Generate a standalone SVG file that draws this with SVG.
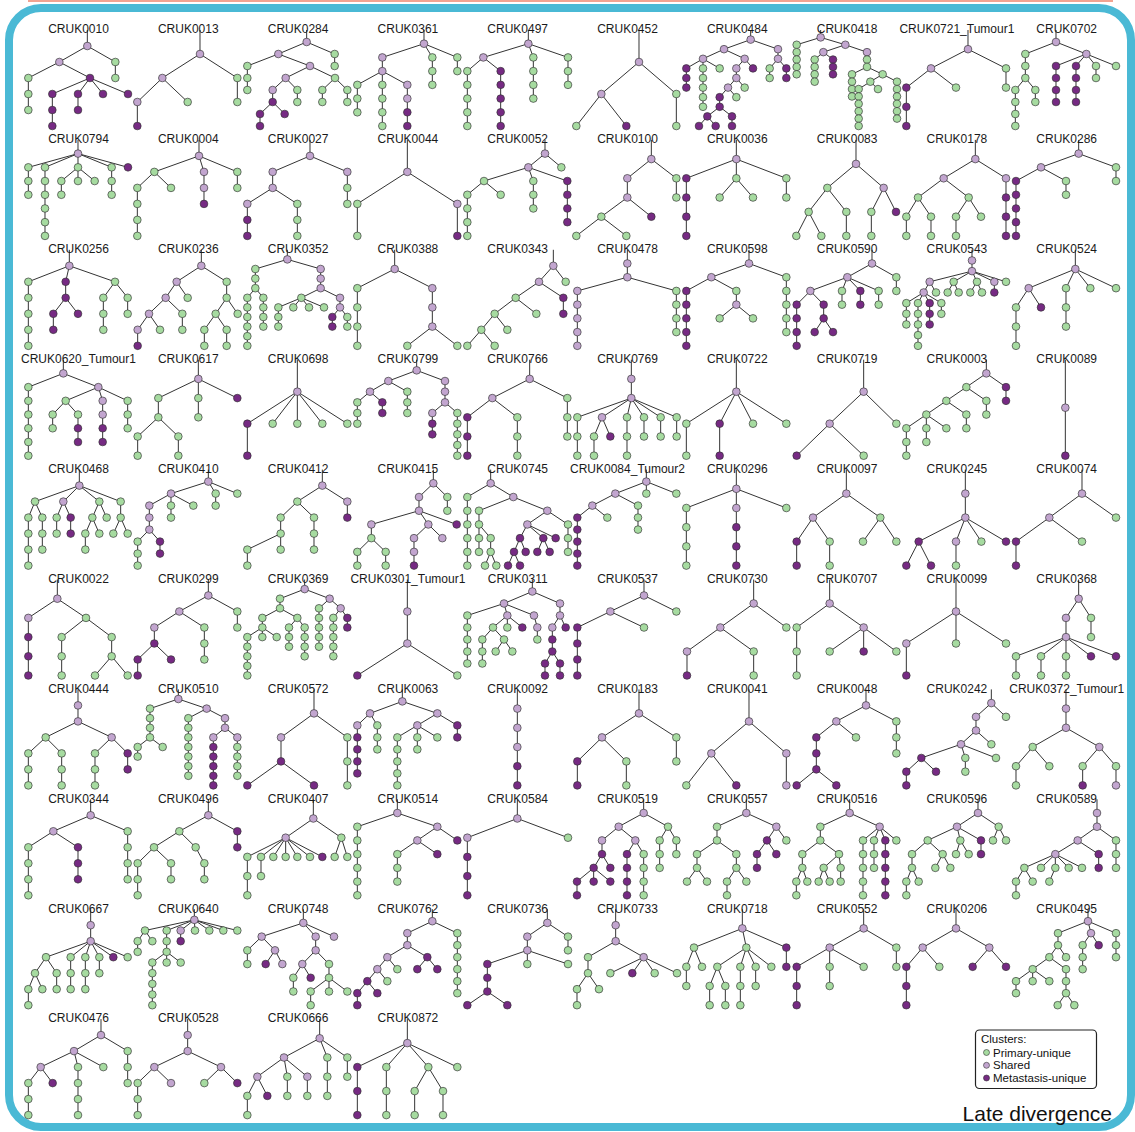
<svg xmlns="http://www.w3.org/2000/svg" width="1135" height="1132" viewBox="0 0 1135 1132">
<style>
.t{font-family:"Liberation Sans",Arial,sans-serif;font-size:12px;fill:#1a1a1a;text-anchor:middle}
.e{fill:none;stroke:#333;stroke-width:3}
.n circle{r:11.5px;stroke:#333;stroke-width:2}
.g{fill:#a6dba0}.s{fill:#c2a5cf}.m{fill:#762a83}
.lg{font-family:"Liberation Sans",Arial,sans-serif;font-size:11.5px;fill:#111}
</style>
<rect width="1135" height="1132" fill="#fff"/>
<rect x="28" y="0" width="1085" height="2" fill="#f2a391"/>
<rect x="9" y="8" width="1122" height="1119" rx="32" fill="none" stroke="#4ab9d5" stroke-width="8"/>
<g id="connectors" class="e">
<path transform="translate(0 30) scale(.33333)" d="M262 0V48M262 48L178 96M262 48L346 96V144M178 96L85 144V240M178 96L270 144M270 144L157 192V288M270 144L234 192V240M270 144L309 192M270 144L384 192"/>
<path transform="translate(0 30) scale(.33333)" d="M600 0V72M600 72L487 144M600 72L712 144V216M487 144L412 216V288M487 144L563 216"/>
<path transform="translate(284 30) scale(.33333)" d="M68 0V36M68 36L152 72V108M68 36L-17 72M-17 72L-110 108V180M-17 72L78 108M78 108L153 144M78 108L5 144M153 144L115 180V216M153 144L190 180V216M5 144L40 180V216M5 144L-34 180V216M-34 216L-72 252V288M-34 216L2 252"/>
<path transform="translate(284 30) scale(.33333)" d="M420 0V41.1M420 41.1L295 82.3V123.4M420 41.1L445 82.3V164.6M420 41.1L520 82.3V123.4M295 123.4L220 164.6V246.9M295 123.4V288M295 123.4L370 164.6V288"/>
<path transform="translate(284 30) scale(.33333)" d="M733 0V41.1M733 41.1L598 82.3M733 41.1L748 82.3V205.7M733 41.1L852 82.3V164.6M598 82.3L550 123.4V288M598 82.3L650 123.4V288"/>
<path transform="translate(568 30) scale(.33333)" d="M213 0V96M213 96L100 192M213 96L325 192V288M100 192L25 288M100 192L175 288"/>
<path transform="translate(568 30) scale(.33333)" d="M548 0V28.8M548 28.8L468 57.6M548 28.8L630 57.6V86.4M468 57.6L405 86.4M468 57.6L530 86.4M405 86.4L355 115.2V172.8M405 86.4V230.4M405 86.4L455 115.2M530 86.4L505 115.2V144M530 86.4L555 115.2M505 144L480 172.8M505 144L530 172.8M480 172.8L455 201.6V230.4M480 172.8L505 201.6M455 230.4L418 259.2M455 230.4L492 259.2V288M418 259.2L393 288M418 259.2L443 288M630 86.4L605 115.2V144M630 86.4L655 115.2V144"/>
<path transform="translate(568 30) scale(.33333)" d="M758 0V22.2M758 22.2L686 44.3V132.9M758 22.2L832 44.3M832 44.3L766 66.5M766 66.5L740 88.6V155.1M766 66.5L795 88.6V132.9M832 44.3L897 66.5V110.8M897 110.8L852 132.9V199.4M897 110.8L944 132.9M944 132.9L907 155.1M944 132.9L987 155.1V265.8M907 155.1L872 177.2V288M907 155.1L930 177.2"/>
<path transform="translate(852 30) scale(.33333)" d="M348 0V57.6M348 57.6L237 115.2M348 57.6L462 115.2V172.8M237 115.2L163 172.8V288M237 115.2L312 172.8"/>
<path transform="translate(852 30) scale(.33333)" d="M612 0V36M612 36L520 72V144M612 36L703 72M520 144L490 180V288M520 144L550 180V216M703 72L612 108V216M703 72L672 108V216M703 72L732 108V144M703 72L792 108"/>
<path transform="translate(0 139.9) scale(.33333)" d="M234 0V41.1M234 41.1L85 82.3V164.6M234 41.1L135 82.3V288M234 41.1V82.3M234 82.3L184 123.4V164.6M234 82.3V123.4M234 82.3L284 123.4M234 41.1L335 82.3V164.6M234 41.1L384 82.3"/>
<path transform="translate(0 139.9) scale(.33333)" d="M597 0V48M597 48L463 96M597 48L612 96M597 48L712 96V144M463 96L412 144V288M463 96L513 144M612 96V192"/>
<path transform="translate(0 139.9) scale(.33333)" d="M930 0V48M930 48L818 96V144M930 48L1042 96V192M818 144L742 192V288M818 144L892 192V288"/>
<path transform="translate(284 139.9) scale(.33333)" d="M370 0V96M370 96L220 192V288M370 96L520 192V288"/>
<path transform="translate(284 139.9) scale(.33333)" d="M783 0V41.1M783 41.1L733 82.3M783 41.1L832 82.3M733 82.3L600 123.4M733 82.3L748 123.4V205.7M733 82.3L850 123.4V246.9M600 123.4L550 164.6V288M600 123.4L650 164.6"/>
<path transform="translate(568 139.9) scale(.33333)" d="M250 0V57.6M250 57.6L178 115.2V172.8M250 57.6L325 115.2V172.8M178 172.8L100 230.4M178 172.8L250 230.4M100 230.4L25 288M100 230.4L175 288"/>
<path transform="translate(568 139.9) scale(.33333)" d="M505 0V57.6M505 57.6L355 115.2V288M505 57.6V115.2M505 115.2L455 172.8M505 115.2L555 172.8M505 57.6L655 115.2V172.8"/>
<path transform="translate(568 139.9) scale(.33333)" d="M864 0V72M864 72L778 144M864 72L947 144M778 144L722 216M778 144L835 216V288M722 216L685 288M722 216L760 288M947 144L910 216V288M947 144L984 216"/>
<path transform="translate(852 139.9) scale(.33333)" d="M370 0V57.6M370 57.6L275 115.2M370 57.6L462 115.2V288M275 115.2L198 172.8M275 115.2L350 172.8M198 172.8L163 230.4V288M198 172.8L237 230.4V288M350 172.8L312 230.4V288M350 172.8L387 230.4"/>
<path transform="translate(852 139.9) scale(.33333)" d="M680 0V41.1M680 41.1L567 82.3M680 41.1L792 82.3V123.4M567 82.3L492 123.4V288M567 82.3L642 123.4V164.6"/>
<path transform="translate(0 249.8) scale(.33333)" d="M208 0V48M208 48L85 96V288M208 48L197 96V144M197 144L160 192V240M197 144L234 192M208 48L345 96M345 96L310 144V240M345 96L383 144V192"/>
<path transform="translate(0 249.8) scale(.33333)" d="M604 0V48M604 48L530 96M604 48L680 96V144M530 96L497 144M530 96L563 144M497 144L447 192M497 144L547 192V240M447 192L413 240V288M447 192L480 240M680 144L647 192M680 144L713 192M647 192L613 240V288M647 192L680 240V288"/>
<path transform="translate(0 249.8) scale(.33333)" d="M862 0V28.8M862 28.8L766 57.6V115.2M766 115.2L742 144V288M766 115.2L790 144V230.4M862 28.8L962 57.6V115.2M962 115.2L904 144M962 115.2L1020 144V172.8M904 144L835 172.8V230.4M904 144L880 172.8M904 144L927 172.8M904 144L972 172.8M1020 172.8L997 201.6V230.4M1020 172.8L1042 201.6V230.4"/>
<path transform="translate(284 249.8) scale(.33333)" d="M332 0V57.6M332 57.6L220 115.2V288M332 57.6L445 115.2V230.4M445 230.4L370 288M445 230.4L520 288"/>
<path transform="translate(284 249.8) scale(.33333)" d="M808 0V48M808 48L765 96M808 48L845 96M765 96L695 144M765 96L838 144V192M695 144L632 192M695 144L757 192M632 192L592 240M632 192L670 240M592 240L550 288M592 240L632 288"/>
<path transform="translate(568 249.8) scale(.33333)" d="M178 0V82.3M178 82.3L28 123.4V288M178 82.3L325 123.4V246.9"/>
<path transform="translate(568 249.8) scale(.33333)" d="M543 0V41.1M543 41.1L430 82.3M543 41.1L655 82.3V246.9M430 82.3L355 123.4V288M430 82.3L505 123.4V164.6M505 164.6L455 205.7M505 164.6L555 205.7"/>
<path transform="translate(568 249.8) scale(.33333)" d="M912 0V41.1M912 41.1L838 82.3M912 41.1L985 82.3V123.4M838 82.3L727 123.4M838 82.3L822 123.4V164.6M838 82.3L877 123.4V164.6M838 82.3L932 123.4V164.6M727 123.4L686 164.6V288M727 123.4L767 164.6V205.7M767 205.7L740 246.9M767 205.7L795 246.9"/>
<path transform="translate(852 249.8) scale(.33333)" d="M360 0V64M360 64L233 96M360 64L305 96M360 64L375 96M360 64L427 96V128M360 64L462 96M233 96L252 128M233 96L215 128M215 128L163 160V224M215 128L198 160V288M215 128L233 160V224M215 128L268 160V192M305 96L287 128M305 96L320 128M375 96L355 128M375 96L390 128"/>
<path transform="translate(852 249.8) scale(.33333)" d="M670 0V57.6M670 57.6L530 115.2M670 57.6L642 115.2V230.4M670 57.6L715 115.2M670 57.6L792 115.2M530 115.2L492 172.8V288M530 115.2L567 172.8"/>
<path transform="translate(0 359.7) scale(.33333)" d="M190 0V41.1M190 41.1L85 82.3V288M190 41.1L295 82.3M295 82.3L197 123.4M295 82.3L308 123.4V246.9M295 82.3L383 123.4V205.7M197 123.4L158 164.6V205.7M197 123.4L234 164.6V246.9"/>
<path transform="translate(0 359.7) scale(.33333)" d="M595 0V57.6M595 57.6L475 115.2V172.8M595 57.6V172.8M595 57.6L712 115.2M475 172.8L413 230.4V288M475 172.8L535 230.4V288"/>
<path transform="translate(284 359.7) scale(.33333)" d="M40 0V192M40 96L-110 192V288M40 96L-34 192M40 96L115 192M40 96L190 192"/>
<path transform="translate(284 359.7) scale(.33333)" d="M398 0V32M398 32L313 64M398 32L483 64V128M313 64L258 96M313 64L370 96V160M258 96L220 128V192M258 96L295 128V160M483 128L445 160V224M483 128L520 160V288"/>
<path transform="translate(284 359.7) scale(.33333)" d="M737 0V57.6M737 57.6L625 115.2M737 57.6L850 115.2V230.4M625 115.2L550 172.8V288M625 115.2L700 172.8V288"/>
<path transform="translate(568 359.7) scale(.33333)" d="M190 0V115.2M190 115.2L28 172.8V288M190 115.2L102 172.8M102 172.8L78 230.4V288M102 172.8L127 230.4M190 115.2L177 172.8V288M190 115.2L228 172.8V230.4M190 115.2L278 172.8V230.4M190 115.2L326 172.8V230.4"/>
<path transform="translate(568 359.7) scale(.33333)" d="M505 0V96M505 96L355 192V288M505 96L455 192V288M505 96L555 192M505 96L655 192"/>
<path transform="translate(568 359.7) scale(.33333)" d="M887 0V96M887 96L785 192M887 96L985 192M785 192L686 288M785 192L887 288"/>
<path transform="translate(852 359.7) scale(.33333)" d="M403 0V41.1M403 41.1L343 82.3M403 41.1L462 82.3V123.4M343 82.3L283 123.4M343 82.3L403 123.4V164.6M283 123.4L223 164.6M283 123.4L343 164.6V205.7M223 164.6L163 205.7V288M223 164.6V246.9M223 164.6L283 205.7"/>
<path transform="translate(852 359.7) scale(.33333)" d="M640 0V288"/>
<path transform="translate(0 469.6) scale(.33333)" d="M238 0V48M238 48L105 96M105 96L85 144V288M105 96L127 144V240M238 48L190 96M190 96L170 144V192M190 96L212 144V192M238 48L298 96M298 96L277 144M277 144L256 192V240M277 144L298 192M298 96L320 144M238 48L362 96V144M362 144L340 192M362 144L383 192"/>
<path transform="translate(0 469.6) scale(.33333)" d="M625 0V36M625 36L513 72M625 36L647 72V108M625 36L712 72M513 72L448 108V180M513 72V144M513 72L580 108M448 180L413 216V288M448 180L480 216V252"/>
<path transform="translate(284 469.6) scale(.33333)" d="M115 0V48M115 48L40 96M115 48L190 96V144M40 96L-10 144V240M40 96L90 144V240M-10 192L-110 240V288"/>
<path transform="translate(284 469.6) scale(.33333)" d="M448 0V41.1M448 41.1L405 82.3V123.4M448 41.1L490 82.3V123.4M405 123.4L262 164.6V205.7M405 123.4L433 164.6M405 123.4L518 164.6M262 205.7L220 246.9V288M262 205.7L305 246.9V288M433 164.6L390 205.7V288M433 164.6L475 205.7"/>
<path transform="translate(284 469.6) scale(.33333)" d="M620 0V41.1M620 41.1L550 82.3V288M620 41.1L688 82.3M688 82.3L585 123.4V246.9M585 164.6L620 205.7V246.9M620 246.9L603 288M620 246.9L637 288M688 82.3L790 123.4M790 123.4L730 164.6M790 123.4L852 164.6V246.9M730 164.6L708 205.7M730 164.6L778 205.7M730 164.6L815 205.7M708 205.7L690 246.9M708 205.7L725 246.9M690 246.9L672 288M690 246.9L708 288M778 205.7L760 246.9M778 205.7L797 246.9"/>
<path transform="translate(568 469.6) scale(.33333)" d="M235 0V72M235 36L142 72M235 36L325 72M142 72L73 108M142 72L210 108V180M73 108L28 144V288M73 108L118 144"/>
<path transform="translate(568 469.6) scale(.33333)" d="M505 0V288M505 57.6L355 115.2V288M505 57.6L655 115.2"/>
<path transform="translate(568 469.6) scale(.33333)" d="M835 0V72M835 72L735 144M835 72L937 144M735 144L686 216V288M735 144L785 216V288M937 144L885 216M937 144L985 216"/>
<path transform="translate(852 469.6) scale(.33333)" d="M340 0V144M340 144L200 216M340 144L312 216V288M340 144L388 216M340 144L462 216M200 216L163 288M200 216L237 288"/>
<path transform="translate(852 469.6) scale(.33333)" d="M690 0V72M690 72L592 144M690 72L792 144M592 144L492 216V288M592 144L690 216"/>
<path transform="translate(0 579.5) scale(.33333)" d="M172 0V57.6M172 57.6L85 115.2V288M172 57.6L258 115.2M258 115.2L185 172.8V288M258 115.2L335 172.8V230.4M335 230.4L285 288M335 230.4L383 288"/>
<path transform="translate(0 579.5) scale(.33333)" d="M625 0V48M625 48L538 96M625 48L712 96V144M538 96L463 144V192M538 96L613 144V240M463 192L413 240V288M463 192L513 240"/>
<path transform="translate(284 579.5) scale(.33333)" d="M62 0V28.8M62 28.8L-12 57.6V86.4M-12 86.4L-65 115.2V144M-65 144L-110 172.8V288M-65 144V172.8M-65 144L-22 172.8M-12 86.4L40 115.2M40 115.2L15 144V201.6M40 115.2L62 144V230.4M62 28.8L137 57.6M137 57.6L105 86.4V201.6M137 57.6L170 86.4M170 86.4L148 115.2V230.4M170 86.4L190 115.2V144"/>
<path transform="translate(284 579.5) scale(.33333)" d="M370 0V192M370 192L220 288M370 192L520 288"/>
<path transform="translate(284 579.5) scale(.33333)" d="M745 0V36M745 36L660 72M745 36L828 72V108M660 72L550 108V252M660 72L670 108M670 108L627 144M670 108V144M670 108L715 144M627 144L595 180V252M627 144L660 180M660 180L635 216M660 180L685 216M660 72L750 108M750 108L760 144V180M828 108L805 144V216M828 108L845 144M805 216L783 252V288M805 216L828 252V288"/>
<path transform="translate(568 579.5) scale(.33333)" d="M228 0V48M228 48L127 96M228 48L325 96M127 96L28 144V288M127 96L228 144"/>
<path transform="translate(568 579.5) scale(.33333)" d="M557 0V72M557 72L457 144M557 72L655 144M457 144L357 216V288M457 144L557 216V288"/>
<path transform="translate(568 579.5) scale(.33333)" d="M785 0V72M785 72L686 144V288M785 72L887 144V216M887 144L785 216M887 144L985 216"/>
<path transform="translate(852 579.5) scale(.33333)" d="M312 0V192M312 96L163 192V288M312 96L462 192"/>
<path transform="translate(852 579.5) scale(.33333)" d="M680 0V57.6M680 57.6L642 115.2V288M680 57.6L717 115.2V172.8M642 172.8L492 230.4V288M642 172.8L567 230.4V288M642 172.8L717 230.4M642 172.8L792 230.4"/>
<path transform="translate(0 689.4) scale(.33333)" d="M234 0V96M234 96L137 144M137 144L85 192V288M137 144L185 192V288M234 96L335 144M335 144L285 192V288M335 144L383 192V240"/>
<path transform="translate(0 689.4) scale(.33333)" d="M535 0V28.8M535 28.8L450 57.6V144M450 144L413 172.8V201.6M450 144L488 172.8M535 28.8L620 57.6M620 57.6L565 86.4V259.2M620 57.6L675 86.4V115.2M675 115.2L640 144V288M675 115.2L712 144V259.2"/>
<path transform="translate(284 689.4) scale(.33333)" d="M90 0V72M90 72L-9 144V216M-9 216L-110 288M-9 216L90 288M90 72L190 144V288"/>
<path transform="translate(284 689.4) scale(.33333)" d="M355 0V36M355 36L258 72M258 72L220 108V252M258 72L280 108V180M355 36L460 72M460 72L400 108M400 108L340 144V288M400 108V180M400 108L460 144M460 72L520 108V144"/>
<path transform="translate(284 689.4) scale(.33333)" d="M700 0V288"/>
<path transform="translate(568 689.4) scale(.33333)" d="M213 0V72M213 72L102 144M213 72L325 144V216M102 144L28 216V288M102 144L175 216V288"/>
<path transform="translate(568 689.4) scale(.33333)" d="M543 0V96M543 96L430 192M543 96L655 192V288M430 192L355 288M430 192L505 288"/>
<path transform="translate(568 689.4) scale(.33333)" d="M894 0V48M894 48L805 96M894 48L985 96V192M805 96L745 144V240M805 96L864 144M745 240L686 288M745 240L805 288"/>
<path transform="translate(852 689.4) scale(.33333)" d="M418 0V41.1M418 41.1L372 82.3V123.4M418 41.1L462 82.3M372 123.4L327 164.6M372 123.4L418 164.6M327 164.6L208 205.7M327 164.6L340 205.7V246.9M327 164.6L432 205.7M208 205.7L163 246.9V288M208 205.7L252 246.9"/>
<path transform="translate(852 689.4) scale(.33333)" d="M642 0V115.2M642 115.2L542 172.8M642 115.2L742 172.8M542 172.8L492 230.4V288M542 172.8L592 230.4M742 172.8L692 230.4V288M742 172.8L792 230.4V288"/>
<path transform="translate(0 799.3) scale(.33333)" d="M272 0V48M272 48L160 96M272 48L383 96V240M160 96L85 144V288M160 96L234 144V240"/>
<path transform="translate(0 799.3) scale(.33333)" d="M625 0V48M625 48L538 96M625 48L712 96V144M538 96L462 144M538 96L587 144M462 144L413 192V288M462 144L513 192V240M587 144L613 192V240"/>
<path transform="translate(284 799.3) scale(.33333)" d="M88 0V57.6M88 57.6L5 115.2M88 57.6L172 115.2M5 115.2L-110 172.8V288M5 115.2L-69 172.8V230.4M5 115.2L-32 172.8M5 115.2V172.8M5 115.2L40 172.8M5 115.2L78 172.8M5 115.2L115 172.8M172 115.2L152 172.8M172 115.2L190 172.8"/>
<path transform="translate(284 799.3) scale(.33333)" d="M340 0V41.1M340 41.1L220 82.3V288M340 41.1L460 82.3M460 82.3L400 123.4M460 82.3L520 123.4M400 123.4L340 164.6V246.9M400 123.4L460 164.6"/>
<path transform="translate(284 799.3) scale(.33333)" d="M700 0V57.6M700 57.6L550 115.2V288M700 57.6L852 115.2"/>
<path transform="translate(568 799.3) scale(.33333)" d="M227 0V41.1M227 41.1L152 82.3M227 41.1L300 82.3M152 82.3L102 123.4V164.6M102 164.6L77 205.7M102 164.6L127 205.7M77 205.7L27 246.9V288M77 205.7V246.9M77 205.7L127 246.9M152 82.3L202 123.4M202 123.4L177 164.6V288M202 123.4L227 164.6V288M300 82.3L275 123.4V205.7M300 82.3L325 123.4V164.6"/>
<path transform="translate(568 799.3) scale(.33333)" d="M535 0V41.1M535 41.1L447 82.3V123.4M447 123.4L387 164.6V205.7M387 205.7L357 246.9M387 205.7L417 246.9M447 123.4L505 164.6V205.7M505 205.7L477 246.9V288M505 205.7L535 246.9M535 41.1L625 82.3M625 82.3L597 123.4M625 82.3L655 123.4M597 123.4L567 164.6V205.7M597 123.4L625 164.6"/>
<path transform="translate(568 799.3) scale(.33333)" d="M845 0V41.1M845 41.1L757 82.3V123.4M757 123.4L703 164.6V205.7M703 205.7L685 246.9V288M703 205.7L718 246.9M757 123.4L813 164.6M813 164.6L767 205.7M767 205.7L752 246.9M767 205.7L785 246.9M813 164.6L818 205.7V246.9M845 41.1L935 82.3M935 82.3L885 123.4V288M935 82.3L918 123.4V205.7M935 82.3L952 123.4V288M935 82.3L985 123.4"/>
<path transform="translate(852 799.3) scale(.33333)" d="M378 0V41.1M378 41.1L315 82.3M378 41.1L440 82.3M440 82.3L423 123.4M440 82.3L462 123.4M315 82.3L227 123.4M227 123.4L180 164.6V205.7M180 205.7L163 246.9V288M180 205.7L200 246.9M227 123.4L272 164.6M272 164.6L250 205.7M272 164.6L295 205.7M315 82.3L325 123.4M325 123.4L312 164.6M325 123.4L350 164.6M315 82.3L387 123.4V164.6"/>
<path transform="translate(852 799.3) scale(.33333)" d="M735 0V82.3M735 82.3L677 123.4M735 82.3L792 123.4V205.7M677 123.4L610 164.6M677 123.4L740 164.6V205.7M610 164.6L517 205.7M610 164.6L567 205.7M610 164.6V205.7M610 164.6L650 205.7M610 164.6L690 205.7M517 205.7L492 246.9V288M517 205.7L542 246.9M610 205.7L592 246.9"/>
<path transform="translate(0 909.2) scale(.33333)" d="M272 0V96M272 96L138 144M138 144L105 192M105 192L85 240V288M105 192L127 240M138 144L170 192V240M272 96L212 144V240M272 96L256 144V240M272 96L298 144V192M272 96L340 144M272 96L383 144"/>
<path transform="translate(0 909.2) scale(.33333)" d="M583 0V32M583 32L435 64M435 64L413 96V128M435 64L457 96M583 32L500 64V128M500 128L457 160V288M500 128V160M500 128L542 160M583 32L542 64V96M583 32L585 64M583 32L628 64M583 32L670 64M583 32L712 64"/>
<path transform="translate(284 909.2) scale(.33333)" d="M58 0V41.1M58 41.1L-67 82.3M-67 82.3L-110 123.4V164.6M-67 82.3L-27 123.4M-27 123.4L-55 164.6M-27 123.4L-5 164.6M58 41.1L95 82.3V123.4M95 123.4L55 164.6M55 164.6L28 205.7V246.9M55 164.6L80 205.7M95 123.4L135 164.6V205.7M135 205.7L80 246.9V288M135 205.7V246.9M135 205.7L190 246.9M58 41.1L150 82.3"/>
<path transform="translate(284 909.2) scale(.33333)" d="M445 0V36M445 36L370 72V108M445 36L520 72V252M370 108L310 144M370 108L430 144M310 144L280 180M310 144L340 180M280 180L250 216M280 180L310 216M250 216L220 252V288M250 216L280 252M430 144L400 180M430 144L460 180"/>
<path transform="translate(284 909.2) scale(.33333)" d="M790 0V41.1M790 41.1L730 82.3V164.6M790 41.1L852 82.3V123.4M730 123.4L610 164.6V246.9M730 123.4L852 164.6M610 246.9L550 288M610 246.9L670 288"/>
<path transform="translate(568 909.2) scale(.33333)" d="M143 0V96M143 96L60 144V192M60 192L27 240V288M60 192L93 240M143 96L227 144M227 144L127 192M227 144L193 192M227 144L260 192M227 144L327 192"/>
<path transform="translate(568 909.2) scale(.33333)" d="M523 0V57.6M523 57.6L378 115.2M378 115.2L355 172.8V230.4M378 115.2L402 172.8M523 57.6L535 115.2M535 115.2L448 172.8M448 172.8L425 230.4V288M448 172.8L472 230.4V288M535 115.2L517 172.8V288M535 115.2L563 172.8V230.4M535 115.2L610 172.8M523 57.6L655 115.2V172.8"/>
<path transform="translate(568 909.2) scale(.33333)" d="M887 0V57.6M887 57.6L785 115.2M887 57.6L985 115.2V172.8M785 115.2L686 172.8V288M785 115.2V230.4M785 115.2L887 172.8"/>
<path transform="translate(852 909.2) scale(.33333)" d="M312 0V57.6M312 57.6L212 115.2M312 57.6L412 115.2M212 115.2L163 172.8V288M212 115.2L262 172.8M412 115.2L362 172.8M412 115.2L462 172.8"/>
<path transform="translate(852 909.2) scale(.33333)" d="M708 0V36M708 36L618 72V108M618 108L592 144M618 108L642 144M592 144L542 180M592 144L642 180V252M542 180L492 216V252M542 180V216M542 180L592 216M642 252L617 288M642 252L667 288M708 36L717 72M717 72L692 108V180M717 72L740 108M708 36L792 72V144"/>
<path transform="translate(0 1019.1) scale(.33333)" d="M303 0V48M303 48L222 96M303 48L383 96V192M222 96L122 144M122 144L85 192V288M122 144L158 192M222 96L234 144V288M222 96L310 144"/>
<path transform="translate(0 1019.1) scale(.33333)" d="M563 0V96M563 96L463 144M463 144L413 192V288M463 144L513 192M563 96L663 144M663 144L613 192M663 144L712 192"/>
<path transform="translate(284 1019.1) scale(.33333)" d="M107 0V57.6M107 57.6L0 115.2M0 115.2L-80 172.8M-80 172.8L-110 230.4V288M-80 172.8L-50 230.4M0 115.2L10 172.8V230.4M0 115.2L70 172.8V230.4M107 57.6L130 115.2V230.4M107 57.6L190 115.2V172.8"/>
<path transform="translate(284 1019.1) scale(.33333)" d="M370 0V72M370 72L220 144V288M370 72L307 144V288M370 72L433 144M433 144L392 216V288M433 144L477 216V288M370 72L520 144"/>
</g>
<g id="nodes">
<g id="CRUK0010"><text class="t" x="78.5" y="33.3">CRUK0010</text><g class="n" transform="translate(0 30) scale(.33333)"><circle class="s" cx="262" cy="48"/><circle class="s" cx="178" cy="96"/><circle class="g" cx="346" cy="96"/><circle class="g" cx="346" cy="144"/><circle class="g" cx="85" cy="144"/><circle class="m" cx="270" cy="144"/><circle class="g" cx="85" cy="192"/><circle class="g" cx="85" cy="240"/><circle class="m" cx="157" cy="192"/><circle class="m" cx="157" cy="240"/><circle class="m" cx="157" cy="288"/><circle class="m" cx="234" cy="192"/><circle class="m" cx="234" cy="240"/><circle class="m" cx="309" cy="192"/><circle class="m" cx="384" cy="192"/></g></g>
<g id="CRUK0013"><text class="t" x="188.3" y="33.3">CRUK0013</text><g class="n" transform="translate(0 30) scale(.33333)"><circle class="s" cx="600" cy="72"/><circle class="s" cx="487" cy="144"/><circle class="g" cx="712" cy="144"/><circle class="s" cx="412" cy="216"/><circle class="g" cx="563" cy="216"/><circle class="m" cx="412" cy="288"/><circle class="g" cx="712" cy="216"/></g></g>
<g id="CRUK0284"><text class="t" x="298.1" y="33.3">CRUK0284</text><g class="n" transform="translate(284 30) scale(.33333)"><circle class="s" cx="68" cy="36"/><circle class="g" cx="152" cy="72"/><circle class="g" cx="152" cy="108"/><circle class="s" cx="-17" cy="72"/><circle class="g" cx="-110" cy="108"/><circle class="g" cx="-110" cy="144"/><circle class="g" cx="-110" cy="180"/><circle class="s" cx="78" cy="108"/><circle class="s" cx="5" cy="144"/><circle class="g" cx="153" cy="144"/><circle class="g" cx="40" cy="180"/><circle class="g" cx="40" cy="216"/><circle class="g" cx="115" cy="180"/><circle class="g" cx="115" cy="216"/><circle class="g" cx="190" cy="180"/><circle class="g" cx="190" cy="216"/><circle class="s" cx="-34" cy="180"/><circle class="m" cx="-34" cy="216"/><circle class="m" cx="-72" cy="252"/><circle class="m" cx="-72" cy="288"/><circle class="m" cx="2" cy="252"/></g></g>
<g id="CRUK0361"><text class="t" x="407.9" y="33.3">CRUK0361</text><g class="n" transform="translate(284 30) scale(.33333)"><circle class="s" cx="420" cy="41.1"/><circle class="s" cx="295" cy="82.3"/><circle class="g" cx="445" cy="82.3"/><circle class="g" cx="520" cy="82.3"/><circle class="s" cx="295" cy="123.4"/><circle class="g" cx="445" cy="123.4"/><circle class="g" cx="520" cy="123.4"/><circle class="g" cx="220" cy="164.6"/><circle class="g" cx="295" cy="164.6"/><circle class="s" cx="370" cy="164.6"/><circle class="g" cx="445" cy="164.6"/><circle class="g" cx="220" cy="205.7"/><circle class="g" cx="295" cy="205.7"/><circle class="s" cx="370" cy="205.7"/><circle class="g" cx="220" cy="246.9"/><circle class="g" cx="295" cy="246.9"/><circle class="m" cx="370" cy="246.9"/><circle class="g" cx="295" cy="288"/><circle class="m" cx="370" cy="288"/></g></g>
<g id="CRUK0497"><text class="t" x="517.7" y="33.3">CRUK0497</text><g class="n" transform="translate(284 30) scale(.33333)"><circle class="s" cx="733" cy="41.1"/><circle class="s" cx="598" cy="82.3"/><circle class="g" cx="748" cy="82.3"/><circle class="g" cx="852" cy="82.3"/><circle class="g" cx="550" cy="123.4"/><circle class="g" cx="550" cy="164.6"/><circle class="g" cx="550" cy="205.7"/><circle class="g" cx="550" cy="246.9"/><circle class="g" cx="550" cy="288"/><circle class="m" cx="650" cy="123.4"/><circle class="m" cx="650" cy="164.6"/><circle class="m" cx="650" cy="205.7"/><circle class="m" cx="650" cy="246.9"/><circle class="m" cx="650" cy="288"/><circle class="g" cx="748" cy="123.4"/><circle class="g" cx="748" cy="164.6"/><circle class="g" cx="748" cy="205.7"/><circle class="g" cx="852" cy="123.4"/><circle class="g" cx="852" cy="164.6"/></g></g>
<g id="CRUK0452"><text class="t" x="627.5" y="33.3">CRUK0452</text><g class="n" transform="translate(568 30) scale(.33333)"><circle class="s" cx="213" cy="96"/><circle class="s" cx="100" cy="192"/><circle class="g" cx="325" cy="192"/><circle class="g" cx="25" cy="288"/><circle class="m" cx="175" cy="288"/><circle class="g" cx="325" cy="288"/></g></g>
<g id="CRUK0484"><text class="t" x="737.3" y="33.3">CRUK0484</text><g class="n" transform="translate(568 30) scale(.33333)"><circle class="s" cx="548" cy="28.8"/><circle class="s" cx="468" cy="57.6"/><circle class="s" cx="630" cy="57.6"/><circle class="s" cx="405" cy="86.4"/><circle class="s" cx="530" cy="86.4"/><circle class="s" cx="630" cy="86.4"/><circle class="m" cx="355" cy="115.2"/><circle class="g" cx="405" cy="115.2"/><circle class="g" cx="455" cy="115.2"/><circle class="s" cx="505" cy="115.2"/><circle class="m" cx="555" cy="115.2"/><circle class="g" cx="605" cy="115.2"/><circle class="m" cx="655" cy="115.2"/><circle class="m" cx="355" cy="144"/><circle class="g" cx="405" cy="144"/><circle class="s" cx="505" cy="144"/><circle class="g" cx="605" cy="144"/><circle class="m" cx="655" cy="144"/><circle class="m" cx="355" cy="172.8"/><circle class="g" cx="405" cy="172.8"/><circle class="s" cx="480" cy="172.8"/><circle class="g" cx="530" cy="172.8"/><circle class="g" cx="405" cy="201.6"/><circle class="m" cx="455" cy="201.6"/><circle class="g" cx="505" cy="201.6"/><circle class="g" cx="405" cy="230.4"/><circle class="m" cx="455" cy="230.4"/><circle class="m" cx="418" cy="259.2"/><circle class="m" cx="492" cy="259.2"/><circle class="m" cx="393" cy="288"/><circle class="m" cx="443" cy="288"/><circle class="m" cx="492" cy="288"/></g></g>
<g id="CRUK0418"><text class="t" x="847.1" y="33.3">CRUK0418</text><g class="n" transform="translate(568 30) scale(.33333)"><circle class="s" cx="758" cy="22.2"/><circle class="g" cx="686" cy="44.3"/><circle class="g" cx="686" cy="66.5"/><circle class="g" cx="686" cy="88.6"/><circle class="g" cx="686" cy="110.8"/><circle class="g" cx="686" cy="132.9"/><circle class="s" cx="832" cy="44.3"/><circle class="s" cx="766" cy="66.5"/><circle class="g" cx="740" cy="88.6"/><circle class="g" cx="740" cy="110.8"/><circle class="g" cx="740" cy="132.9"/><circle class="g" cx="740" cy="155.1"/><circle class="m" cx="795" cy="88.6"/><circle class="m" cx="795" cy="110.8"/><circle class="m" cx="795" cy="132.9"/><circle class="s" cx="897" cy="66.5"/><circle class="g" cx="897" cy="88.6"/><circle class="g" cx="897" cy="110.8"/><circle class="g" cx="852" cy="132.9"/><circle class="g" cx="852" cy="155.1"/><circle class="g" cx="852" cy="177.2"/><circle class="g" cx="852" cy="199.4"/><circle class="g" cx="944" cy="132.9"/><circle class="g" cx="907" cy="155.1"/><circle class="g" cx="987" cy="155.1"/><circle class="g" cx="987" cy="177.2"/><circle class="g" cx="987" cy="199.4"/><circle class="g" cx="987" cy="221.5"/><circle class="g" cx="987" cy="243.7"/><circle class="g" cx="987" cy="265.8"/><circle class="g" cx="872" cy="177.2"/><circle class="g" cx="872" cy="199.4"/><circle class="g" cx="872" cy="221.5"/><circle class="g" cx="872" cy="243.7"/><circle class="g" cx="872" cy="265.8"/><circle class="g" cx="872" cy="288"/><circle class="g" cx="930" cy="177.2"/></g></g>
<g id="CRUK0721_Tumour1"><text class="t" x="956.9" y="33.3">CRUK0721_Tumour1</text><g class="n" transform="translate(852 30) scale(.33333)"><circle class="s" cx="348" cy="57.6"/><circle class="s" cx="237" cy="115.2"/><circle class="g" cx="462" cy="115.2"/><circle class="m" cx="163" cy="172.8"/><circle class="g" cx="312" cy="172.8"/><circle class="g" cx="462" cy="172.8"/><circle class="m" cx="163" cy="230.4"/><circle class="m" cx="163" cy="288"/></g></g>
<g id="CRUK0702"><text class="t" x="1066.7" y="33.3">CRUK0702</text><g class="n" transform="translate(852 30) scale(.33333)"><circle class="s" cx="612" cy="36"/><circle class="g" cx="520" cy="72"/><circle class="s" cx="703" cy="72"/><circle class="g" cx="520" cy="108"/><circle class="m" cx="612" cy="108"/><circle class="m" cx="672" cy="108"/><circle class="g" cx="732" cy="108"/><circle class="g" cx="792" cy="108"/><circle class="g" cx="520" cy="144"/><circle class="m" cx="612" cy="144"/><circle class="m" cx="672" cy="144"/><circle class="g" cx="732" cy="144"/><circle class="g" cx="490" cy="180"/><circle class="g" cx="550" cy="180"/><circle class="m" cx="612" cy="180"/><circle class="m" cx="672" cy="180"/><circle class="g" cx="490" cy="216"/><circle class="g" cx="550" cy="216"/><circle class="m" cx="612" cy="216"/><circle class="m" cx="672" cy="216"/><circle class="g" cx="490" cy="252"/><circle class="g" cx="490" cy="288"/></g></g>
<g id="CRUK0794"><text class="t" x="78.5" y="143.2">CRUK0794</text><g class="n" transform="translate(0 139.9) scale(.33333)"><circle class="s" cx="234" cy="41.1"/><circle class="g" cx="85" cy="82.3"/><circle class="g" cx="135" cy="82.3"/><circle class="g" cx="234" cy="82.3"/><circle class="g" cx="335" cy="82.3"/><circle class="m" cx="384" cy="82.3"/><circle class="g" cx="85" cy="123.4"/><circle class="g" cx="85" cy="164.6"/><circle class="g" cx="135" cy="123.4"/><circle class="g" cx="135" cy="164.6"/><circle class="g" cx="135" cy="205.7"/><circle class="g" cx="135" cy="246.9"/><circle class="g" cx="135" cy="288"/><circle class="g" cx="184" cy="123.4"/><circle class="g" cx="234" cy="123.4"/><circle class="g" cx="284" cy="123.4"/><circle class="g" cx="184" cy="164.6"/><circle class="g" cx="335" cy="123.4"/><circle class="g" cx="335" cy="164.6"/></g></g>
<g id="CRUK0004"><text class="t" x="188.3" y="143.2">CRUK0004</text><g class="n" transform="translate(0 139.9) scale(.33333)"><circle class="s" cx="597" cy="48"/><circle class="g" cx="463" cy="96"/><circle class="s" cx="612" cy="96"/><circle class="g" cx="712" cy="96"/><circle class="g" cx="412" cy="144"/><circle class="g" cx="513" cy="144"/><circle class="s" cx="612" cy="144"/><circle class="g" cx="712" cy="144"/><circle class="g" cx="412" cy="192"/><circle class="m" cx="612" cy="192"/><circle class="g" cx="412" cy="240"/><circle class="g" cx="412" cy="288"/></g></g>
<g id="CRUK0027"><text class="t" x="298.1" y="143.2">CRUK0027</text><g class="n" transform="translate(0 139.9) scale(.33333)"><circle class="s" cx="930" cy="48"/><circle class="s" cx="818" cy="96"/><circle class="s" cx="1042" cy="96"/><circle class="s" cx="818" cy="144"/><circle class="s" cx="742" cy="192"/><circle class="g" cx="892" cy="192"/><circle class="m" cx="742" cy="240"/><circle class="m" cx="742" cy="288"/><circle class="g" cx="892" cy="240"/><circle class="g" cx="892" cy="288"/><circle class="g" cx="1042" cy="144"/><circle class="g" cx="1042" cy="192"/></g></g>
<g id="CRUK0044"><text class="t" x="407.9" y="143.2">CRUK0044</text><g class="n" transform="translate(284 139.9) scale(.33333)"><circle class="s" cx="370" cy="96"/><circle class="g" cx="220" cy="192"/><circle class="s" cx="520" cy="192"/><circle class="g" cx="220" cy="288"/><circle class="m" cx="520" cy="288"/></g></g>
<g id="CRUK0052"><text class="t" x="517.7" y="143.2">CRUK0052</text><g class="n" transform="translate(284 139.9) scale(.33333)"><circle class="s" cx="783" cy="41.1"/><circle class="s" cx="733" cy="82.3"/><circle class="g" cx="832" cy="82.3"/><circle class="g" cx="600" cy="123.4"/><circle class="g" cx="748" cy="123.4"/><circle class="m" cx="850" cy="123.4"/><circle class="g" cx="550" cy="164.6"/><circle class="g" cx="650" cy="164.6"/><circle class="g" cx="748" cy="164.6"/><circle class="m" cx="850" cy="164.6"/><circle class="g" cx="550" cy="205.7"/><circle class="g" cx="748" cy="205.7"/><circle class="m" cx="850" cy="205.7"/><circle class="g" cx="550" cy="246.9"/><circle class="m" cx="850" cy="246.9"/><circle class="g" cx="550" cy="288"/></g></g>
<g id="CRUK0100"><text class="t" x="627.5" y="143.2">CRUK0100</text><g class="n" transform="translate(568 139.9) scale(.33333)"><circle class="s" cx="250" cy="57.6"/><circle class="s" cx="178" cy="115.2"/><circle class="g" cx="325" cy="115.2"/><circle class="s" cx="178" cy="172.8"/><circle class="g" cx="325" cy="172.8"/><circle class="g" cx="100" cy="230.4"/><circle class="m" cx="250" cy="230.4"/><circle class="g" cx="25" cy="288"/><circle class="g" cx="175" cy="288"/></g></g>
<g id="CRUK0036"><text class="t" x="737.3" y="143.2">CRUK0036</text><g class="n" transform="translate(568 139.9) scale(.33333)"><circle class="s" cx="505" cy="57.6"/><circle class="m" cx="355" cy="115.2"/><circle class="g" cx="505" cy="115.2"/><circle class="g" cx="655" cy="115.2"/><circle class="m" cx="355" cy="172.8"/><circle class="g" cx="455" cy="172.8"/><circle class="g" cx="555" cy="172.8"/><circle class="g" cx="655" cy="172.8"/><circle class="m" cx="355" cy="230.4"/><circle class="m" cx="355" cy="288"/></g></g>
<g id="CRUK0083"><text class="t" x="847.1" y="143.2">CRUK0083</text><g class="n" transform="translate(568 139.9) scale(.33333)"><circle class="s" cx="864" cy="72"/><circle class="g" cx="778" cy="144"/><circle class="s" cx="947" cy="144"/><circle class="g" cx="722" cy="216"/><circle class="g" cx="835" cy="216"/><circle class="g" cx="685" cy="288"/><circle class="g" cx="760" cy="288"/><circle class="g" cx="835" cy="288"/><circle class="g" cx="910" cy="216"/><circle class="m" cx="984" cy="216"/><circle class="g" cx="910" cy="288"/></g></g>
<g id="CRUK0178"><text class="t" x="956.9" y="143.2">CRUK0178</text><g class="n" transform="translate(852 139.9) scale(.33333)"><circle class="s" cx="370" cy="57.6"/><circle class="s" cx="275" cy="115.2"/><circle class="s" cx="462" cy="115.2"/><circle class="g" cx="198" cy="172.8"/><circle class="g" cx="350" cy="172.8"/><circle class="m" cx="462" cy="172.8"/><circle class="g" cx="163" cy="230.4"/><circle class="g" cx="237" cy="230.4"/><circle class="g" cx="312" cy="230.4"/><circle class="g" cx="387" cy="230.4"/><circle class="m" cx="462" cy="230.4"/><circle class="g" cx="163" cy="288"/><circle class="g" cx="237" cy="288"/><circle class="g" cx="312" cy="288"/><circle class="m" cx="462" cy="288"/></g></g>
<g id="CRUK0286"><text class="t" x="1066.7" y="143.2">CRUK0286</text><g class="n" transform="translate(852 139.9) scale(.33333)"><circle class="s" cx="680" cy="41.1"/><circle class="s" cx="567" cy="82.3"/><circle class="g" cx="792" cy="82.3"/><circle class="m" cx="492" cy="123.4"/><circle class="g" cx="642" cy="123.4"/><circle class="g" cx="792" cy="123.4"/><circle class="m" cx="492" cy="164.6"/><circle class="g" cx="642" cy="164.6"/><circle class="m" cx="492" cy="205.7"/><circle class="m" cx="492" cy="246.9"/><circle class="m" cx="492" cy="288"/></g></g>
<g id="CRUK0256"><text class="t" x="78.5" y="253.1">CRUK0256</text><g class="n" transform="translate(0 249.8) scale(.33333)"><circle class="s" cx="208" cy="48"/><circle class="g" cx="85" cy="96"/><circle class="m" cx="197" cy="96"/><circle class="g" cx="345" cy="96"/><circle class="g" cx="85" cy="144"/><circle class="m" cx="197" cy="144"/><circle class="g" cx="310" cy="144"/><circle class="g" cx="383" cy="144"/><circle class="g" cx="85" cy="192"/><circle class="m" cx="160" cy="192"/><circle class="m" cx="234" cy="192"/><circle class="g" cx="310" cy="192"/><circle class="g" cx="383" cy="192"/><circle class="g" cx="85" cy="240"/><circle class="m" cx="160" cy="240"/><circle class="g" cx="310" cy="240"/><circle class="g" cx="85" cy="288"/></g></g>
<g id="CRUK0236"><text class="t" x="188.3" y="253.1">CRUK0236</text><g class="n" transform="translate(0 249.8) scale(.33333)"><circle class="s" cx="604" cy="48"/><circle class="s" cx="530" cy="96"/><circle class="g" cx="680" cy="96"/><circle class="s" cx="497" cy="144"/><circle class="g" cx="563" cy="144"/><circle class="g" cx="680" cy="144"/><circle class="s" cx="447" cy="192"/><circle class="g" cx="547" cy="192"/><circle class="g" cx="647" cy="192"/><circle class="g" cx="713" cy="192"/><circle class="s" cx="413" cy="240"/><circle class="g" cx="480" cy="240"/><circle class="g" cx="547" cy="240"/><circle class="g" cx="613" cy="240"/><circle class="g" cx="680" cy="240"/><circle class="m" cx="413" cy="288"/><circle class="g" cx="613" cy="288"/><circle class="g" cx="680" cy="288"/></g></g>
<g id="CRUK0352"><text class="t" x="298.1" y="253.1">CRUK0352</text><g class="n" transform="translate(0 249.8) scale(.33333)"><circle class="s" cx="862" cy="28.8"/><circle class="g" cx="766" cy="57.6"/><circle class="g" cx="766" cy="86.4"/><circle class="g" cx="766" cy="115.2"/><circle class="g" cx="742" cy="144"/><circle class="g" cx="742" cy="172.8"/><circle class="g" cx="742" cy="201.6"/><circle class="g" cx="742" cy="230.4"/><circle class="g" cx="742" cy="259.2"/><circle class="g" cx="742" cy="288"/><circle class="g" cx="790" cy="144"/><circle class="g" cx="790" cy="172.8"/><circle class="g" cx="790" cy="201.6"/><circle class="g" cx="790" cy="230.4"/><circle class="s" cx="962" cy="57.6"/><circle class="s" cx="962" cy="86.4"/><circle class="s" cx="962" cy="115.2"/><circle class="g" cx="904" cy="144"/><circle class="s" cx="1020" cy="144"/><circle class="g" cx="835" cy="172.8"/><circle class="g" cx="835" cy="201.6"/><circle class="g" cx="835" cy="230.4"/><circle class="g" cx="880" cy="172.8"/><circle class="g" cx="927" cy="172.8"/><circle class="g" cx="972" cy="172.8"/><circle class="s" cx="1020" cy="172.8"/><circle class="m" cx="997" cy="201.6"/><circle class="m" cx="997" cy="230.4"/><circle class="g" cx="1042" cy="201.6"/><circle class="g" cx="1042" cy="230.4"/></g></g>
<g id="CRUK0388"><text class="t" x="407.9" y="253.1">CRUK0388</text><g class="n" transform="translate(284 249.8) scale(.33333)"><circle class="s" cx="332" cy="57.6"/><circle class="g" cx="220" cy="115.2"/><circle class="s" cx="445" cy="115.2"/><circle class="g" cx="220" cy="172.8"/><circle class="s" cx="445" cy="172.8"/><circle class="g" cx="220" cy="230.4"/><circle class="s" cx="445" cy="230.4"/><circle class="g" cx="220" cy="288"/><circle class="g" cx="370" cy="288"/><circle class="g" cx="520" cy="288"/></g></g>
<g id="CRUK0343"><text class="t" x="517.7" y="253.1">CRUK0343</text><g class="n" transform="translate(284 249.8) scale(.33333)"><circle class="s" cx="808" cy="48"/><circle class="s" cx="765" cy="96"/><circle class="g" cx="845" cy="96"/><circle class="g" cx="695" cy="144"/><circle class="m" cx="838" cy="144"/><circle class="g" cx="632" cy="192"/><circle class="g" cx="757" cy="192"/><circle class="m" cx="838" cy="192"/><circle class="g" cx="592" cy="240"/><circle class="g" cx="670" cy="240"/><circle class="g" cx="550" cy="288"/><circle class="g" cx="632" cy="288"/></g></g>
<g id="CRUK0478"><text class="t" x="627.5" y="253.1">CRUK0478</text><g class="n" transform="translate(568 249.8) scale(.33333)"><circle class="s" cx="178" cy="41.1"/><circle class="s" cx="178" cy="82.3"/><circle class="s" cx="28" cy="123.4"/><circle class="g" cx="325" cy="123.4"/><circle class="s" cx="28" cy="164.6"/><circle class="s" cx="28" cy="205.7"/><circle class="s" cx="28" cy="246.9"/><circle class="s" cx="28" cy="288"/><circle class="g" cx="325" cy="164.6"/><circle class="g" cx="325" cy="205.7"/><circle class="g" cx="325" cy="246.9"/></g></g>
<g id="CRUK0598"><text class="t" x="737.3" y="253.1">CRUK0598</text><g class="n" transform="translate(568 249.8) scale(.33333)"><circle class="s" cx="543" cy="41.1"/><circle class="s" cx="430" cy="82.3"/><circle class="g" cx="655" cy="82.3"/><circle class="m" cx="355" cy="123.4"/><circle class="g" cx="505" cy="123.4"/><circle class="g" cx="655" cy="123.4"/><circle class="m" cx="355" cy="164.6"/><circle class="s" cx="505" cy="164.6"/><circle class="g" cx="655" cy="164.6"/><circle class="m" cx="355" cy="205.7"/><circle class="g" cx="455" cy="205.7"/><circle class="g" cx="555" cy="205.7"/><circle class="g" cx="655" cy="205.7"/><circle class="m" cx="355" cy="246.9"/><circle class="g" cx="655" cy="246.9"/><circle class="m" cx="355" cy="288"/></g></g>
<g id="CRUK0590"><text class="t" x="847.1" y="253.1">CRUK0590</text><g class="n" transform="translate(568 249.8) scale(.33333)"><circle class="s" cx="912" cy="41.1"/><circle class="s" cx="838" cy="82.3"/><circle class="g" cx="985" cy="82.3"/><circle class="s" cx="727" cy="123.4"/><circle class="g" cx="822" cy="123.4"/><circle class="m" cx="877" cy="123.4"/><circle class="g" cx="932" cy="123.4"/><circle class="g" cx="985" cy="123.4"/><circle class="m" cx="686" cy="164.6"/><circle class="m" cx="767" cy="164.6"/><circle class="g" cx="822" cy="164.6"/><circle class="m" cx="877" cy="164.6"/><circle class="g" cx="932" cy="164.6"/><circle class="m" cx="686" cy="205.7"/><circle class="m" cx="767" cy="205.7"/><circle class="m" cx="686" cy="246.9"/><circle class="m" cx="740" cy="246.9"/><circle class="m" cx="795" cy="246.9"/><circle class="m" cx="686" cy="288"/></g></g>
<g id="CRUK0543"><text class="t" x="956.9" y="253.1">CRUK0543</text><g class="n" transform="translate(852 249.8) scale(.33333)"><circle class="s" cx="360" cy="32"/><circle class="s" cx="360" cy="64"/><circle class="s" cx="233" cy="96"/><circle class="g" cx="305" cy="96"/><circle class="g" cx="375" cy="96"/><circle class="s" cx="427" cy="96"/><circle class="g" cx="462" cy="96"/><circle class="g" cx="252" cy="128"/><circle class="s" cx="215" cy="128"/><circle class="g" cx="287" cy="128"/><circle class="g" cx="320" cy="128"/><circle class="g" cx="355" cy="128"/><circle class="g" cx="390" cy="128"/><circle class="m" cx="427" cy="128"/><circle class="g" cx="163" cy="160"/><circle class="g" cx="198" cy="160"/><circle class="m" cx="233" cy="160"/><circle class="g" cx="268" cy="160"/><circle class="g" cx="163" cy="192"/><circle class="g" cx="198" cy="192"/><circle class="m" cx="233" cy="192"/><circle class="g" cx="268" cy="192"/><circle class="g" cx="163" cy="224"/><circle class="g" cx="198" cy="224"/><circle class="m" cx="233" cy="224"/><circle class="g" cx="198" cy="256"/><circle class="g" cx="198" cy="288"/></g></g>
<g id="CRUK0524"><text class="t" x="1066.7" y="253.1">CRUK0524</text><g class="n" transform="translate(852 249.8) scale(.33333)"><circle class="s" cx="670" cy="57.6"/><circle class="s" cx="530" cy="115.2"/><circle class="g" cx="642" cy="115.2"/><circle class="g" cx="715" cy="115.2"/><circle class="g" cx="792" cy="115.2"/><circle class="g" cx="492" cy="172.8"/><circle class="m" cx="567" cy="172.8"/><circle class="g" cx="642" cy="172.8"/><circle class="g" cx="492" cy="230.4"/><circle class="g" cx="642" cy="230.4"/><circle class="g" cx="492" cy="288"/></g></g>
<g id="CRUK0620_Tumour1"><text class="t" x="78.5" y="363">CRUK0620_Tumour1</text><g class="n" transform="translate(0 359.7) scale(.33333)"><circle class="s" cx="190" cy="41.1"/><circle class="g" cx="85" cy="82.3"/><circle class="s" cx="295" cy="82.3"/><circle class="g" cx="85" cy="123.4"/><circle class="g" cx="85" cy="164.6"/><circle class="g" cx="85" cy="205.7"/><circle class="g" cx="85" cy="246.9"/><circle class="g" cx="85" cy="288"/><circle class="g" cx="197" cy="123.4"/><circle class="s" cx="308" cy="123.4"/><circle class="g" cx="383" cy="123.4"/><circle class="g" cx="158" cy="164.6"/><circle class="g" cx="234" cy="164.6"/><circle class="s" cx="308" cy="164.6"/><circle class="g" cx="383" cy="164.6"/><circle class="g" cx="158" cy="205.7"/><circle class="m" cx="234" cy="205.7"/><circle class="m" cx="308" cy="205.7"/><circle class="g" cx="383" cy="205.7"/><circle class="m" cx="234" cy="246.9"/><circle class="m" cx="308" cy="246.9"/></g></g>
<g id="CRUK0617"><text class="t" x="188.3" y="363">CRUK0617</text><g class="n" transform="translate(0 359.7) scale(.33333)"><circle class="s" cx="595" cy="57.6"/><circle class="g" cx="475" cy="115.2"/><circle class="g" cx="595" cy="115.2"/><circle class="m" cx="712" cy="115.2"/><circle class="g" cx="475" cy="172.8"/><circle class="g" cx="595" cy="172.8"/><circle class="g" cx="413" cy="230.4"/><circle class="g" cx="535" cy="230.4"/><circle class="g" cx="413" cy="288"/><circle class="g" cx="535" cy="288"/></g></g>
<g id="CRUK0698"><text class="t" x="298.1" y="363">CRUK0698</text><g class="n" transform="translate(284 359.7) scale(.33333)"><circle class="s" cx="40" cy="96"/><circle class="m" cx="-110" cy="192"/><circle class="g" cx="-34" cy="192"/><circle class="g" cx="40" cy="192"/><circle class="g" cx="115" cy="192"/><circle class="g" cx="190" cy="192"/><circle class="m" cx="-110" cy="288"/></g></g>
<g id="CRUK0799"><text class="t" x="407.9" y="363">CRUK0799</text><g class="n" transform="translate(284 359.7) scale(.33333)"><circle class="s" cx="398" cy="32"/><circle class="s" cx="313" cy="64"/><circle class="s" cx="483" cy="64"/><circle class="s" cx="258" cy="96"/><circle class="g" cx="370" cy="96"/><circle class="s" cx="483" cy="96"/><circle class="g" cx="220" cy="128"/><circle class="m" cx="295" cy="128"/><circle class="g" cx="370" cy="128"/><circle class="s" cx="483" cy="128"/><circle class="g" cx="220" cy="160"/><circle class="m" cx="295" cy="160"/><circle class="g" cx="370" cy="160"/><circle class="s" cx="445" cy="160"/><circle class="g" cx="520" cy="160"/><circle class="g" cx="220" cy="192"/><circle class="m" cx="445" cy="192"/><circle class="g" cx="520" cy="192"/><circle class="m" cx="445" cy="224"/><circle class="g" cx="520" cy="224"/><circle class="g" cx="520" cy="256"/><circle class="g" cx="520" cy="288"/></g></g>
<g id="CRUK0766"><text class="t" x="517.7" y="363">CRUK0766</text><g class="n" transform="translate(284 359.7) scale(.33333)"><circle class="s" cx="737" cy="57.6"/><circle class="s" cx="625" cy="115.2"/><circle class="g" cx="850" cy="115.2"/><circle class="m" cx="550" cy="172.8"/><circle class="g" cx="700" cy="172.8"/><circle class="g" cx="850" cy="172.8"/><circle class="m" cx="550" cy="230.4"/><circle class="g" cx="700" cy="230.4"/><circle class="g" cx="850" cy="230.4"/><circle class="m" cx="550" cy="288"/><circle class="g" cx="700" cy="288"/></g></g>
<g id="CRUK0769"><text class="t" x="627.5" y="363">CRUK0769</text><g class="n" transform="translate(568 359.7) scale(.33333)"><circle class="s" cx="190" cy="57.6"/><circle class="s" cx="190" cy="115.2"/><circle class="g" cx="28" cy="172.8"/><circle class="s" cx="102" cy="172.8"/><circle class="g" cx="177" cy="172.8"/><circle class="g" cx="228" cy="172.8"/><circle class="g" cx="278" cy="172.8"/><circle class="g" cx="326" cy="172.8"/><circle class="g" cx="28" cy="230.4"/><circle class="g" cx="78" cy="230.4"/><circle class="m" cx="127" cy="230.4"/><circle class="g" cx="177" cy="230.4"/><circle class="g" cx="228" cy="230.4"/><circle class="g" cx="278" cy="230.4"/><circle class="g" cx="326" cy="230.4"/><circle class="g" cx="28" cy="288"/><circle class="g" cx="78" cy="288"/><circle class="g" cx="177" cy="288"/></g></g>
<g id="CRUK0722"><text class="t" x="737.3" y="363">CRUK0722</text><g class="n" transform="translate(568 359.7) scale(.33333)"><circle class="s" cx="505" cy="96"/><circle class="g" cx="355" cy="192"/><circle class="m" cx="455" cy="192"/><circle class="g" cx="555" cy="192"/><circle class="g" cx="655" cy="192"/><circle class="g" cx="355" cy="288"/><circle class="m" cx="455" cy="288"/></g></g>
<g id="CRUK0719"><text class="t" x="847.1" y="363">CRUK0719</text><g class="n" transform="translate(568 359.7) scale(.33333)"><circle class="s" cx="887" cy="96"/><circle class="s" cx="785" cy="192"/><circle class="g" cx="985" cy="192"/><circle class="m" cx="686" cy="288"/><circle class="g" cx="887" cy="288"/></g></g>
<g id="CRUK0003"><text class="t" x="956.9" y="363">CRUK0003</text><g class="n" transform="translate(852 359.7) scale(.33333)"><circle class="s" cx="403" cy="41.1"/><circle class="g" cx="343" cy="82.3"/><circle class="m" cx="462" cy="82.3"/><circle class="g" cx="283" cy="123.4"/><circle class="g" cx="403" cy="123.4"/><circle class="m" cx="462" cy="123.4"/><circle class="g" cx="223" cy="164.6"/><circle class="g" cx="343" cy="164.6"/><circle class="g" cx="403" cy="164.6"/><circle class="g" cx="163" cy="205.7"/><circle class="g" cx="223" cy="205.7"/><circle class="g" cx="283" cy="205.7"/><circle class="g" cx="343" cy="205.7"/><circle class="g" cx="163" cy="246.9"/><circle class="g" cx="223" cy="246.9"/><circle class="g" cx="163" cy="288"/></g></g>
<g id="CRUK0089"><text class="t" x="1066.7" y="363">CRUK0089</text><g class="n" transform="translate(852 359.7) scale(.33333)"><circle class="s" cx="640" cy="144"/><circle class="m" cx="640" cy="288"/></g></g>
<g id="CRUK0468"><text class="t" x="78.5" y="472.9">CRUK0468</text><g class="n" transform="translate(0 469.6) scale(.33333)"><circle class="s" cx="238" cy="48"/><circle class="g" cx="105" cy="96"/><circle class="s" cx="190" cy="96"/><circle class="g" cx="298" cy="96"/><circle class="g" cx="362" cy="96"/><circle class="g" cx="85" cy="144"/><circle class="g" cx="127" cy="144"/><circle class="g" cx="170" cy="144"/><circle class="m" cx="212" cy="144"/><circle class="g" cx="277" cy="144"/><circle class="g" cx="320" cy="144"/><circle class="g" cx="362" cy="144"/><circle class="g" cx="85" cy="192"/><circle class="g" cx="127" cy="192"/><circle class="g" cx="170" cy="192"/><circle class="m" cx="212" cy="192"/><circle class="g" cx="256" cy="192"/><circle class="g" cx="298" cy="192"/><circle class="g" cx="340" cy="192"/><circle class="g" cx="383" cy="192"/><circle class="g" cx="85" cy="240"/><circle class="g" cx="127" cy="240"/><circle class="g" cx="256" cy="240"/><circle class="g" cx="85" cy="288"/></g></g>
<g id="CRUK0410"><text class="t" x="188.3" y="472.9">CRUK0410</text><g class="n" transform="translate(0 469.6) scale(.33333)"><circle class="s" cx="625" cy="36"/><circle class="s" cx="513" cy="72"/><circle class="g" cx="647" cy="72"/><circle class="g" cx="712" cy="72"/><circle class="s" cx="448" cy="108"/><circle class="g" cx="513" cy="108"/><circle class="g" cx="580" cy="108"/><circle class="g" cx="647" cy="108"/><circle class="s" cx="448" cy="144"/><circle class="g" cx="513" cy="144"/><circle class="s" cx="448" cy="180"/><circle class="g" cx="413" cy="216"/><circle class="m" cx="480" cy="216"/><circle class="g" cx="413" cy="252"/><circle class="m" cx="480" cy="252"/><circle class="g" cx="413" cy="288"/></g></g>
<g id="CRUK0412"><text class="t" x="298.1" y="472.9">CRUK0412</text><g class="n" transform="translate(284 469.6) scale(.33333)"><circle class="s" cx="115" cy="48"/><circle class="g" cx="40" cy="96"/><circle class="s" cx="190" cy="96"/><circle class="g" cx="-10" cy="144"/><circle class="g" cx="90" cy="144"/><circle class="m" cx="190" cy="144"/><circle class="g" cx="-10" cy="192"/><circle class="g" cx="90" cy="192"/><circle class="g" cx="-10" cy="240"/><circle class="g" cx="-110" cy="240"/><circle class="g" cx="90" cy="240"/><circle class="g" cx="-110" cy="288"/></g></g>
<g id="CRUK0415"><text class="t" x="407.9" y="472.9">CRUK0415</text><g class="n" transform="translate(284 469.6) scale(.33333)"><circle class="s" cx="448" cy="41.1"/><circle class="s" cx="405" cy="82.3"/><circle class="g" cx="490" cy="82.3"/><circle class="s" cx="405" cy="123.4"/><circle class="g" cx="490" cy="123.4"/><circle class="s" cx="262" cy="164.6"/><circle class="s" cx="433" cy="164.6"/><circle class="m" cx="518" cy="164.6"/><circle class="g" cx="262" cy="205.7"/><circle class="s" cx="390" cy="205.7"/><circle class="s" cx="475" cy="205.7"/><circle class="g" cx="220" cy="246.9"/><circle class="g" cx="305" cy="246.9"/><circle class="s" cx="390" cy="246.9"/><circle class="g" cx="220" cy="288"/><circle class="g" cx="305" cy="288"/><circle class="m" cx="390" cy="288"/></g></g>
<g id="CRUK0745"><text class="t" x="517.7" y="472.9">CRUK0745</text><g class="n" transform="translate(284 469.6) scale(.33333)"><circle class="s" cx="620" cy="41.1"/><circle class="g" cx="550" cy="82.3"/><circle class="s" cx="688" cy="82.3"/><circle class="g" cx="550" cy="123.4"/><circle class="g" cx="550" cy="164.6"/><circle class="g" cx="550" cy="205.7"/><circle class="g" cx="550" cy="246.9"/><circle class="g" cx="550" cy="288"/><circle class="g" cx="585" cy="123.4"/><circle class="s" cx="790" cy="123.4"/><circle class="g" cx="585" cy="164.6"/><circle class="s" cx="730" cy="164.6"/><circle class="g" cx="852" cy="164.6"/><circle class="g" cx="585" cy="205.7"/><circle class="g" cx="620" cy="205.7"/><circle class="m" cx="708" cy="205.7"/><circle class="m" cx="778" cy="205.7"/><circle class="m" cx="815" cy="205.7"/><circle class="g" cx="852" cy="205.7"/><circle class="g" cx="585" cy="246.9"/><circle class="g" cx="620" cy="246.9"/><circle class="m" cx="690" cy="246.9"/><circle class="m" cx="725" cy="246.9"/><circle class="m" cx="760" cy="246.9"/><circle class="m" cx="797" cy="246.9"/><circle class="g" cx="852" cy="246.9"/><circle class="g" cx="603" cy="288"/><circle class="g" cx="637" cy="288"/><circle class="m" cx="672" cy="288"/><circle class="m" cx="708" cy="288"/></g></g>
<g id="CRUK0084_Tumour2"><text class="t" x="627.5" y="472.9">CRUK0084_Tumour2</text><g class="n" transform="translate(568 469.6) scale(.33333)"><circle class="s" cx="235" cy="36"/><circle class="s" cx="142" cy="72"/><circle class="g" cx="235" cy="72"/><circle class="g" cx="325" cy="72"/><circle class="s" cx="73" cy="108"/><circle class="g" cx="210" cy="108"/><circle class="m" cx="28" cy="144"/><circle class="g" cx="118" cy="144"/><circle class="g" cx="210" cy="144"/><circle class="m" cx="28" cy="180"/><circle class="g" cx="210" cy="180"/><circle class="m" cx="28" cy="216"/><circle class="m" cx="28" cy="252"/><circle class="m" cx="28" cy="288"/></g></g>
<g id="CRUK0296"><text class="t" x="737.3" y="472.9">CRUK0296</text><g class="n" transform="translate(568 469.6) scale(.33333)"><circle class="s" cx="505" cy="57.6"/><circle class="g" cx="355" cy="115.2"/><circle class="s" cx="505" cy="115.2"/><circle class="g" cx="655" cy="115.2"/><circle class="g" cx="355" cy="172.8"/><circle class="m" cx="505" cy="172.8"/><circle class="g" cx="355" cy="230.4"/><circle class="m" cx="505" cy="230.4"/><circle class="g" cx="355" cy="288"/><circle class="m" cx="505" cy="288"/></g></g>
<g id="CRUK0097"><text class="t" x="847.1" y="472.9">CRUK0097</text><g class="n" transform="translate(568 469.6) scale(.33333)"><circle class="s" cx="835" cy="72"/><circle class="s" cx="735" cy="144"/><circle class="g" cx="937" cy="144"/><circle class="m" cx="686" cy="216"/><circle class="g" cx="785" cy="216"/><circle class="m" cx="686" cy="288"/><circle class="g" cx="785" cy="288"/><circle class="g" cx="885" cy="216"/><circle class="g" cx="985" cy="216"/></g></g>
<g id="CRUK0245"><text class="t" x="956.9" y="472.9">CRUK0245</text><g class="n" transform="translate(852 469.6) scale(.33333)"><circle class="s" cx="340" cy="72"/><circle class="s" cx="340" cy="144"/><circle class="m" cx="200" cy="216"/><circle class="s" cx="312" cy="216"/><circle class="g" cx="388" cy="216"/><circle class="m" cx="462" cy="216"/><circle class="m" cx="163" cy="288"/><circle class="m" cx="237" cy="288"/><circle class="g" cx="312" cy="288"/></g></g>
<g id="CRUK0074"><text class="t" x="1066.7" y="472.9">CRUK0074</text><g class="n" transform="translate(852 469.6) scale(.33333)"><circle class="s" cx="690" cy="72"/><circle class="s" cx="592" cy="144"/><circle class="g" cx="792" cy="144"/><circle class="m" cx="492" cy="216"/><circle class="g" cx="690" cy="216"/><circle class="m" cx="492" cy="288"/></g></g>
<g id="CRUK0022"><text class="t" x="78.5" y="582.8">CRUK0022</text><g class="n" transform="translate(0 579.5) scale(.33333)"><circle class="s" cx="172" cy="57.6"/><circle class="s" cx="85" cy="115.2"/><circle class="g" cx="258" cy="115.2"/><circle class="m" cx="85" cy="172.8"/><circle class="g" cx="185" cy="172.8"/><circle class="g" cx="335" cy="172.8"/><circle class="m" cx="85" cy="230.4"/><circle class="g" cx="185" cy="230.4"/><circle class="g" cx="335" cy="230.4"/><circle class="m" cx="85" cy="288"/><circle class="g" cx="185" cy="288"/><circle class="g" cx="285" cy="288"/><circle class="g" cx="383" cy="288"/></g></g>
<g id="CRUK0299"><text class="t" x="188.3" y="582.8">CRUK0299</text><g class="n" transform="translate(0 579.5) scale(.33333)"><circle class="s" cx="625" cy="48"/><circle class="s" cx="538" cy="96"/><circle class="g" cx="712" cy="96"/><circle class="s" cx="463" cy="144"/><circle class="g" cx="613" cy="144"/><circle class="g" cx="712" cy="144"/><circle class="m" cx="463" cy="192"/><circle class="g" cx="613" cy="192"/><circle class="m" cx="413" cy="240"/><circle class="m" cx="513" cy="240"/><circle class="g" cx="613" cy="240"/><circle class="m" cx="413" cy="288"/></g></g>
<g id="CRUK0369"><text class="t" x="298.1" y="582.8">CRUK0369</text><g class="n" transform="translate(284 579.5) scale(.33333)"><circle class="s" cx="62" cy="28.8"/><circle class="g" cx="-12" cy="57.6"/><circle class="s" cx="137" cy="57.6"/><circle class="g" cx="-12" cy="86.4"/><circle class="g" cx="105" cy="86.4"/><circle class="s" cx="170" cy="86.4"/><circle class="g" cx="-65" cy="115.2"/><circle class="g" cx="40" cy="115.2"/><circle class="g" cx="105" cy="115.2"/><circle class="g" cx="148" cy="115.2"/><circle class="m" cx="190" cy="115.2"/><circle class="g" cx="-65" cy="144"/><circle class="g" cx="15" cy="144"/><circle class="g" cx="62" cy="144"/><circle class="g" cx="105" cy="144"/><circle class="g" cx="148" cy="144"/><circle class="m" cx="190" cy="144"/><circle class="g" cx="-110" cy="172.8"/><circle class="g" cx="-65" cy="172.8"/><circle class="g" cx="-22" cy="172.8"/><circle class="g" cx="15" cy="172.8"/><circle class="g" cx="62" cy="172.8"/><circle class="g" cx="105" cy="172.8"/><circle class="g" cx="148" cy="172.8"/><circle class="g" cx="-110" cy="201.6"/><circle class="g" cx="15" cy="201.6"/><circle class="g" cx="62" cy="201.6"/><circle class="g" cx="105" cy="201.6"/><circle class="g" cx="148" cy="201.6"/><circle class="g" cx="-110" cy="230.4"/><circle class="g" cx="62" cy="230.4"/><circle class="g" cx="148" cy="230.4"/><circle class="g" cx="-110" cy="259.2"/><circle class="g" cx="-110" cy="288"/></g></g>
<g id="CRUK0301_Tumour1"><text class="t" x="407.9" y="582.8">CRUK0301_Tumour1</text><g class="n" transform="translate(284 579.5) scale(.33333)"><circle class="s" cx="370" cy="96"/><circle class="s" cx="370" cy="192"/><circle class="m" cx="220" cy="288"/><circle class="g" cx="520" cy="288"/></g></g>
<g id="CRUK0311"><text class="t" x="517.7" y="582.8">CRUK0311</text><g class="n" transform="translate(284 579.5) scale(.33333)"><circle class="s" cx="745" cy="36"/><circle class="s" cx="660" cy="72"/><circle class="s" cx="828" cy="72"/><circle class="g" cx="550" cy="108"/><circle class="s" cx="670" cy="108"/><circle class="s" cx="750" cy="108"/><circle class="s" cx="828" cy="108"/><circle class="g" cx="550" cy="144"/><circle class="g" cx="627" cy="144"/><circle class="g" cx="670" cy="144"/><circle class="m" cx="715" cy="144"/><circle class="s" cx="760" cy="144"/><circle class="s" cx="805" cy="144"/><circle class="m" cx="845" cy="144"/><circle class="g" cx="550" cy="180"/><circle class="g" cx="595" cy="180"/><circle class="g" cx="660" cy="180"/><circle class="g" cx="760" cy="180"/><circle class="m" cx="805" cy="180"/><circle class="g" cx="550" cy="216"/><circle class="g" cx="595" cy="216"/><circle class="g" cx="635" cy="216"/><circle class="g" cx="685" cy="216"/><circle class="m" cx="805" cy="216"/><circle class="g" cx="550" cy="252"/><circle class="g" cx="595" cy="252"/><circle class="m" cx="783" cy="252"/><circle class="m" cx="828" cy="252"/><circle class="m" cx="783" cy="288"/><circle class="m" cx="828" cy="288"/></g></g>
<g id="CRUK0537"><text class="t" x="627.5" y="582.8">CRUK0537</text><g class="n" transform="translate(568 579.5) scale(.33333)"><circle class="s" cx="228" cy="48"/><circle class="s" cx="127" cy="96"/><circle class="g" cx="325" cy="96"/><circle class="m" cx="28" cy="144"/><circle class="g" cx="228" cy="144"/><circle class="m" cx="28" cy="192"/><circle class="m" cx="28" cy="240"/><circle class="m" cx="28" cy="288"/></g></g>
<g id="CRUK0730"><text class="t" x="737.3" y="582.8">CRUK0730</text><g class="n" transform="translate(568 579.5) scale(.33333)"><circle class="s" cx="557" cy="72"/><circle class="s" cx="457" cy="144"/><circle class="g" cx="655" cy="144"/><circle class="s" cx="357" cy="216"/><circle class="g" cx="557" cy="216"/><circle class="m" cx="357" cy="288"/><circle class="g" cx="557" cy="288"/></g></g>
<g id="CRUK0707"><text class="t" x="847.1" y="582.8">CRUK0707</text><g class="n" transform="translate(568 579.5) scale(.33333)"><circle class="s" cx="785" cy="72"/><circle class="g" cx="686" cy="144"/><circle class="s" cx="887" cy="144"/><circle class="g" cx="686" cy="216"/><circle class="g" cx="686" cy="288"/><circle class="g" cx="785" cy="216"/><circle class="m" cx="887" cy="216"/><circle class="g" cx="985" cy="216"/></g></g>
<g id="CRUK0099"><text class="t" x="956.9" y="582.8">CRUK0099</text><g class="n" transform="translate(852 579.5) scale(.33333)"><circle class="s" cx="312" cy="96"/><circle class="s" cx="163" cy="192"/><circle class="g" cx="312" cy="192"/><circle class="g" cx="462" cy="192"/><circle class="m" cx="163" cy="288"/></g></g>
<g id="CRUK0368"><text class="t" x="1066.7" y="582.8">CRUK0368</text><g class="n" transform="translate(852 579.5) scale(.33333)"><circle class="s" cx="680" cy="57.6"/><circle class="s" cx="642" cy="115.2"/><circle class="g" cx="717" cy="115.2"/><circle class="s" cx="642" cy="172.8"/><circle class="g" cx="717" cy="172.8"/><circle class="g" cx="492" cy="230.4"/><circle class="g" cx="567" cy="230.4"/><circle class="g" cx="642" cy="230.4"/><circle class="m" cx="717" cy="230.4"/><circle class="m" cx="792" cy="230.4"/><circle class="g" cx="492" cy="288"/><circle class="g" cx="567" cy="288"/><circle class="g" cx="642" cy="288"/></g></g>
<g id="CRUK0444"><text class="t" x="78.5" y="692.7">CRUK0444</text><g class="n" transform="translate(0 689.4) scale(.33333)"><circle class="s" cx="234" cy="48"/><circle class="s" cx="234" cy="96"/><circle class="g" cx="137" cy="144"/><circle class="s" cx="335" cy="144"/><circle class="g" cx="85" cy="192"/><circle class="g" cx="185" cy="192"/><circle class="g" cx="285" cy="192"/><circle class="m" cx="383" cy="192"/><circle class="g" cx="85" cy="240"/><circle class="g" cx="185" cy="240"/><circle class="g" cx="285" cy="240"/><circle class="m" cx="383" cy="240"/><circle class="g" cx="85" cy="288"/><circle class="g" cx="185" cy="288"/><circle class="g" cx="285" cy="288"/></g></g>
<g id="CRUK0510"><text class="t" x="188.3" y="692.7">CRUK0510</text><g class="n" transform="translate(0 689.4) scale(.33333)"><circle class="s" cx="535" cy="28.8"/><circle class="g" cx="450" cy="57.6"/><circle class="s" cx="620" cy="57.6"/><circle class="g" cx="450" cy="86.4"/><circle class="g" cx="565" cy="86.4"/><circle class="s" cx="675" cy="86.4"/><circle class="g" cx="450" cy="115.2"/><circle class="g" cx="565" cy="115.2"/><circle class="s" cx="675" cy="115.2"/><circle class="g" cx="450" cy="144"/><circle class="g" cx="565" cy="144"/><circle class="s" cx="640" cy="144"/><circle class="s" cx="712" cy="144"/><circle class="g" cx="413" cy="172.8"/><circle class="g" cx="488" cy="172.8"/><circle class="g" cx="565" cy="172.8"/><circle class="m" cx="640" cy="172.8"/><circle class="g" cx="712" cy="172.8"/><circle class="g" cx="413" cy="201.6"/><circle class="g" cx="565" cy="201.6"/><circle class="m" cx="640" cy="201.6"/><circle class="g" cx="712" cy="201.6"/><circle class="g" cx="565" cy="230.4"/><circle class="m" cx="640" cy="230.4"/><circle class="g" cx="712" cy="230.4"/><circle class="g" cx="565" cy="259.2"/><circle class="m" cx="640" cy="259.2"/><circle class="g" cx="712" cy="259.2"/><circle class="m" cx="640" cy="288"/></g></g>
<g id="CRUK0572"><text class="t" x="298.1" y="692.7">CRUK0572</text><g class="n" transform="translate(284 689.4) scale(.33333)"><circle class="s" cx="90" cy="72"/><circle class="s" cx="-9" cy="144"/><circle class="g" cx="190" cy="144"/><circle class="m" cx="-9" cy="216"/><circle class="g" cx="190" cy="216"/><circle class="m" cx="-110" cy="288"/><circle class="m" cx="90" cy="288"/><circle class="g" cx="190" cy="288"/></g></g>
<g id="CRUK0063"><text class="t" x="407.9" y="692.7">CRUK0063</text><g class="n" transform="translate(284 689.4) scale(.33333)"><circle class="s" cx="355" cy="36"/><circle class="s" cx="258" cy="72"/><circle class="s" cx="460" cy="72"/><circle class="s" cx="220" cy="108"/><circle class="g" cx="280" cy="108"/><circle class="s" cx="400" cy="108"/><circle class="m" cx="520" cy="108"/><circle class="m" cx="220" cy="144"/><circle class="g" cx="280" cy="144"/><circle class="g" cx="340" cy="144"/><circle class="g" cx="400" cy="144"/><circle class="g" cx="460" cy="144"/><circle class="m" cx="520" cy="144"/><circle class="m" cx="220" cy="180"/><circle class="g" cx="280" cy="180"/><circle class="g" cx="340" cy="180"/><circle class="g" cx="400" cy="180"/><circle class="m" cx="220" cy="216"/><circle class="g" cx="340" cy="216"/><circle class="m" cx="220" cy="252"/><circle class="g" cx="340" cy="252"/><circle class="g" cx="340" cy="288"/></g></g>
<g id="CRUK0092"><text class="t" x="517.7" y="692.7">CRUK0092</text><g class="n" transform="translate(284 689.4) scale(.33333)"><circle class="s" cx="700" cy="57.6"/><circle class="s" cx="700" cy="115.2"/><circle class="s" cx="700" cy="172.8"/><circle class="m" cx="700" cy="230.4"/><circle class="m" cx="700" cy="288"/></g></g>
<g id="CRUK0183"><text class="t" x="627.5" y="692.7">CRUK0183</text><g class="n" transform="translate(568 689.4) scale(.33333)"><circle class="s" cx="213" cy="72"/><circle class="s" cx="102" cy="144"/><circle class="g" cx="325" cy="144"/><circle class="m" cx="28" cy="216"/><circle class="g" cx="175" cy="216"/><circle class="g" cx="325" cy="216"/><circle class="m" cx="28" cy="288"/><circle class="g" cx="175" cy="288"/></g></g>
<g id="CRUK0041"><text class="t" x="737.3" y="692.7">CRUK0041</text><g class="n" transform="translate(568 689.4) scale(.33333)"><circle class="s" cx="543" cy="96"/><circle class="s" cx="430" cy="192"/><circle class="s" cx="655" cy="192"/><circle class="g" cx="355" cy="288"/><circle class="m" cx="505" cy="288"/><circle class="s" cx="655" cy="288"/></g></g>
<g id="CRUK0048"><text class="t" x="847.1" y="692.7">CRUK0048</text><g class="n" transform="translate(568 689.4) scale(.33333)"><circle class="s" cx="894" cy="48"/><circle class="s" cx="805" cy="96"/><circle class="g" cx="985" cy="96"/><circle class="m" cx="745" cy="144"/><circle class="g" cx="864" cy="144"/><circle class="g" cx="985" cy="144"/><circle class="m" cx="745" cy="192"/><circle class="g" cx="985" cy="192"/><circle class="m" cx="745" cy="240"/><circle class="m" cx="686" cy="288"/><circle class="m" cx="805" cy="288"/></g></g>
<g id="CRUK0242"><text class="t" x="956.9" y="692.7">CRUK0242</text><g class="n" transform="translate(852 689.4) scale(.33333)"><circle class="s" cx="418" cy="41.1"/><circle class="s" cx="372" cy="82.3"/><circle class="g" cx="462" cy="82.3"/><circle class="s" cx="372" cy="123.4"/><circle class="s" cx="327" cy="164.6"/><circle class="g" cx="418" cy="164.6"/><circle class="m" cx="208" cy="205.7"/><circle class="g" cx="340" cy="205.7"/><circle class="g" cx="432" cy="205.7"/><circle class="m" cx="163" cy="246.9"/><circle class="m" cx="252" cy="246.9"/><circle class="g" cx="340" cy="246.9"/><circle class="m" cx="163" cy="288"/></g></g>
<g id="CRUK0372_Tumour1"><text class="t" x="1066.7" y="692.7">CRUK0372_Tumour1</text><g class="n" transform="translate(852 689.4) scale(.33333)"><circle class="s" cx="642" cy="57.6"/><circle class="s" cx="642" cy="115.2"/><circle class="g" cx="542" cy="172.8"/><circle class="s" cx="742" cy="172.8"/><circle class="g" cx="492" cy="230.4"/><circle class="g" cx="592" cy="230.4"/><circle class="g" cx="692" cy="230.4"/><circle class="g" cx="792" cy="230.4"/><circle class="g" cx="492" cy="288"/><circle class="m" cx="692" cy="288"/><circle class="s" cx="792" cy="288"/></g></g>
<g id="CRUK0344"><text class="t" x="78.5" y="802.6">CRUK0344</text><g class="n" transform="translate(0 799.3) scale(.33333)"><circle class="s" cx="272" cy="48"/><circle class="s" cx="160" cy="96"/><circle class="g" cx="383" cy="96"/><circle class="g" cx="85" cy="144"/><circle class="m" cx="234" cy="144"/><circle class="g" cx="383" cy="144"/><circle class="g" cx="85" cy="192"/><circle class="m" cx="234" cy="192"/><circle class="g" cx="383" cy="192"/><circle class="g" cx="85" cy="240"/><circle class="m" cx="234" cy="240"/><circle class="g" cx="383" cy="240"/><circle class="g" cx="85" cy="288"/></g></g>
<g id="CRUK0496"><text class="t" x="188.3" y="802.6">CRUK0496</text><g class="n" transform="translate(0 799.3) scale(.33333)"><circle class="s" cx="625" cy="48"/><circle class="g" cx="538" cy="96"/><circle class="m" cx="712" cy="96"/><circle class="g" cx="462" cy="144"/><circle class="g" cx="587" cy="144"/><circle class="m" cx="712" cy="144"/><circle class="g" cx="413" cy="192"/><circle class="g" cx="513" cy="192"/><circle class="g" cx="613" cy="192"/><circle class="g" cx="413" cy="240"/><circle class="g" cx="513" cy="240"/><circle class="g" cx="613" cy="240"/><circle class="g" cx="413" cy="288"/></g></g>
<g id="CRUK0407"><text class="t" x="298.1" y="802.6">CRUK0407</text><g class="n" transform="translate(284 799.3) scale(.33333)"><circle class="s" cx="88" cy="57.6"/><circle class="s" cx="5" cy="115.2"/><circle class="g" cx="172" cy="115.2"/><circle class="g" cx="-110" cy="172.8"/><circle class="g" cx="-69" cy="172.8"/><circle class="g" cx="-32" cy="172.8"/><circle class="g" cx="5" cy="172.8"/><circle class="g" cx="40" cy="172.8"/><circle class="g" cx="78" cy="172.8"/><circle class="m" cx="115" cy="172.8"/><circle class="g" cx="152" cy="172.8"/><circle class="g" cx="190" cy="172.8"/><circle class="g" cx="-110" cy="230.4"/><circle class="g" cx="-69" cy="230.4"/><circle class="g" cx="-110" cy="288"/></g></g>
<g id="CRUK0514"><text class="t" x="407.9" y="802.6">CRUK0514</text><g class="n" transform="translate(284 799.3) scale(.33333)"><circle class="s" cx="340" cy="41.1"/><circle class="g" cx="220" cy="82.3"/><circle class="s" cx="460" cy="82.3"/><circle class="g" cx="220" cy="123.4"/><circle class="s" cx="400" cy="123.4"/><circle class="m" cx="520" cy="123.4"/><circle class="g" cx="220" cy="164.6"/><circle class="g" cx="340" cy="164.6"/><circle class="m" cx="460" cy="164.6"/><circle class="g" cx="220" cy="205.7"/><circle class="g" cx="340" cy="205.7"/><circle class="g" cx="220" cy="246.9"/><circle class="g" cx="340" cy="246.9"/><circle class="g" cx="220" cy="288"/></g></g>
<g id="CRUK0584"><text class="t" x="517.7" y="802.6">CRUK0584</text><g class="n" transform="translate(284 799.3) scale(.33333)"><circle class="s" cx="700" cy="57.6"/><circle class="s" cx="550" cy="115.2"/><circle class="g" cx="852" cy="115.2"/><circle class="m" cx="550" cy="172.8"/><circle class="m" cx="550" cy="230.4"/><circle class="m" cx="550" cy="288"/></g></g>
<g id="CRUK0519"><text class="t" x="627.5" y="802.6">CRUK0519</text><g class="n" transform="translate(568 799.3) scale(.33333)"><circle class="s" cx="227" cy="41.1"/><circle class="s" cx="152" cy="82.3"/><circle class="g" cx="300" cy="82.3"/><circle class="s" cx="102" cy="123.4"/><circle class="s" cx="202" cy="123.4"/><circle class="g" cx="275" cy="123.4"/><circle class="g" cx="325" cy="123.4"/><circle class="m" cx="102" cy="164.6"/><circle class="m" cx="177" cy="164.6"/><circle class="g" cx="227" cy="164.6"/><circle class="g" cx="275" cy="164.6"/><circle class="g" cx="325" cy="164.6"/><circle class="m" cx="77" cy="205.7"/><circle class="m" cx="127" cy="205.7"/><circle class="m" cx="177" cy="205.7"/><circle class="g" cx="227" cy="205.7"/><circle class="g" cx="275" cy="205.7"/><circle class="m" cx="27" cy="246.9"/><circle class="m" cx="77" cy="246.9"/><circle class="m" cx="127" cy="246.9"/><circle class="m" cx="177" cy="246.9"/><circle class="g" cx="227" cy="246.9"/><circle class="m" cx="27" cy="288"/><circle class="m" cx="177" cy="288"/><circle class="g" cx="227" cy="288"/></g></g>
<g id="CRUK0557"><text class="t" x="737.3" y="802.6">CRUK0557</text><g class="n" transform="translate(568 799.3) scale(.33333)"><circle class="s" cx="535" cy="41.1"/><circle class="g" cx="447" cy="82.3"/><circle class="s" cx="625" cy="82.3"/><circle class="g" cx="447" cy="123.4"/><circle class="m" cx="597" cy="123.4"/><circle class="g" cx="655" cy="123.4"/><circle class="g" cx="387" cy="164.6"/><circle class="g" cx="505" cy="164.6"/><circle class="m" cx="567" cy="164.6"/><circle class="m" cx="625" cy="164.6"/><circle class="g" cx="387" cy="205.7"/><circle class="g" cx="505" cy="205.7"/><circle class="m" cx="567" cy="205.7"/><circle class="g" cx="357" cy="246.9"/><circle class="g" cx="417" cy="246.9"/><circle class="g" cx="477" cy="246.9"/><circle class="g" cx="535" cy="246.9"/><circle class="g" cx="477" cy="288"/></g></g>
<g id="CRUK0516"><text class="t" x="847.1" y="802.6">CRUK0516</text><g class="n" transform="translate(568 799.3) scale(.33333)"><circle class="s" cx="845" cy="41.1"/><circle class="g" cx="757" cy="82.3"/><circle class="s" cx="935" cy="82.3"/><circle class="g" cx="757" cy="123.4"/><circle class="g" cx="703" cy="164.6"/><circle class="g" cx="813" cy="164.6"/><circle class="g" cx="703" cy="205.7"/><circle class="g" cx="767" cy="205.7"/><circle class="g" cx="818" cy="205.7"/><circle class="g" cx="685" cy="246.9"/><circle class="g" cx="718" cy="246.9"/><circle class="g" cx="752" cy="246.9"/><circle class="g" cx="785" cy="246.9"/><circle class="g" cx="818" cy="246.9"/><circle class="g" cx="685" cy="288"/><circle class="g" cx="885" cy="123.4"/><circle class="g" cx="918" cy="123.4"/><circle class="m" cx="952" cy="123.4"/><circle class="g" cx="985" cy="123.4"/><circle class="g" cx="885" cy="164.6"/><circle class="g" cx="918" cy="164.6"/><circle class="m" cx="952" cy="164.6"/><circle class="g" cx="885" cy="205.7"/><circle class="g" cx="918" cy="205.7"/><circle class="m" cx="952" cy="205.7"/><circle class="g" cx="885" cy="246.9"/><circle class="m" cx="952" cy="246.9"/><circle class="g" cx="885" cy="288"/><circle class="m" cx="952" cy="288"/></g></g>
<g id="CRUK0596"><text class="t" x="956.9" y="802.6">CRUK0596</text><g class="n" transform="translate(852 799.3) scale(.33333)"><circle class="s" cx="378" cy="41.1"/><circle class="s" cx="315" cy="82.3"/><circle class="g" cx="440" cy="82.3"/><circle class="g" cx="227" cy="123.4"/><circle class="g" cx="325" cy="123.4"/><circle class="m" cx="387" cy="123.4"/><circle class="g" cx="423" cy="123.4"/><circle class="g" cx="462" cy="123.4"/><circle class="g" cx="180" cy="164.6"/><circle class="g" cx="272" cy="164.6"/><circle class="g" cx="312" cy="164.6"/><circle class="g" cx="350" cy="164.6"/><circle class="m" cx="387" cy="164.6"/><circle class="g" cx="180" cy="205.7"/><circle class="g" cx="250" cy="205.7"/><circle class="g" cx="295" cy="205.7"/><circle class="g" cx="163" cy="246.9"/><circle class="g" cx="200" cy="246.9"/><circle class="g" cx="163" cy="288"/></g></g>
<g id="CRUK0589"><text class="t" x="1066.7" y="802.6">CRUK0589</text><g class="n" transform="translate(852 799.3) scale(.33333)"><circle class="s" cx="735" cy="41.1"/><circle class="s" cx="735" cy="82.3"/><circle class="s" cx="677" cy="123.4"/><circle class="g" cx="792" cy="123.4"/><circle class="s" cx="610" cy="164.6"/><circle class="m" cx="740" cy="164.6"/><circle class="g" cx="792" cy="164.6"/><circle class="g" cx="517" cy="205.7"/><circle class="g" cx="567" cy="205.7"/><circle class="g" cx="610" cy="205.7"/><circle class="g" cx="650" cy="205.7"/><circle class="g" cx="690" cy="205.7"/><circle class="m" cx="740" cy="205.7"/><circle class="g" cx="792" cy="205.7"/><circle class="g" cx="492" cy="246.9"/><circle class="g" cx="542" cy="246.9"/><circle class="g" cx="592" cy="246.9"/><circle class="g" cx="492" cy="288"/></g></g>
<g id="CRUK0667"><text class="t" x="78.5" y="912.5">CRUK0667</text><g class="n" transform="translate(0 909.2) scale(.33333)"><circle class="s" cx="272" cy="48"/><circle class="s" cx="272" cy="96"/><circle class="g" cx="138" cy="144"/><circle class="g" cx="212" cy="144"/><circle class="g" cx="256" cy="144"/><circle class="g" cx="298" cy="144"/><circle class="m" cx="340" cy="144"/><circle class="g" cx="383" cy="144"/><circle class="g" cx="105" cy="192"/><circle class="g" cx="170" cy="192"/><circle class="g" cx="212" cy="192"/><circle class="g" cx="256" cy="192"/><circle class="g" cx="298" cy="192"/><circle class="g" cx="85" cy="240"/><circle class="g" cx="127" cy="240"/><circle class="g" cx="170" cy="240"/><circle class="g" cx="212" cy="240"/><circle class="g" cx="256" cy="240"/><circle class="g" cx="85" cy="288"/></g></g>
<g id="CRUK0640"><text class="t" x="188.3" y="912.5">CRUK0640</text><g class="n" transform="translate(0 909.2) scale(.33333)"><circle class="s" cx="583" cy="32"/><circle class="g" cx="435" cy="64"/><circle class="g" cx="500" cy="64"/><circle class="s" cx="542" cy="64"/><circle class="g" cx="585" cy="64"/><circle class="g" cx="628" cy="64"/><circle class="g" cx="670" cy="64"/><circle class="g" cx="712" cy="64"/><circle class="g" cx="413" cy="96"/><circle class="g" cx="457" cy="96"/><circle class="g" cx="500" cy="96"/><circle class="m" cx="542" cy="96"/><circle class="g" cx="413" cy="128"/><circle class="g" cx="500" cy="128"/><circle class="g" cx="457" cy="160"/><circle class="g" cx="500" cy="160"/><circle class="g" cx="542" cy="160"/><circle class="g" cx="457" cy="192"/><circle class="g" cx="457" cy="224"/><circle class="g" cx="457" cy="256"/><circle class="g" cx="457" cy="288"/></g></g>
<g id="CRUK0748"><text class="t" x="298.1" y="912.5">CRUK0748</text><g class="n" transform="translate(284 909.2) scale(.33333)"><circle class="s" cx="58" cy="41.1"/><circle class="s" cx="-67" cy="82.3"/><circle class="s" cx="95" cy="82.3"/><circle class="s" cx="150" cy="82.3"/><circle class="g" cx="-110" cy="123.4"/><circle class="s" cx="-27" cy="123.4"/><circle class="s" cx="95" cy="123.4"/><circle class="g" cx="-110" cy="164.6"/><circle class="m" cx="-55" cy="164.6"/><circle class="s" cx="-5" cy="164.6"/><circle class="s" cx="55" cy="164.6"/><circle class="g" cx="135" cy="164.6"/><circle class="g" cx="28" cy="205.7"/><circle class="m" cx="80" cy="205.7"/><circle class="g" cx="135" cy="205.7"/><circle class="g" cx="28" cy="246.9"/><circle class="g" cx="80" cy="246.9"/><circle class="g" cx="135" cy="246.9"/><circle class="g" cx="190" cy="246.9"/><circle class="g" cx="80" cy="288"/></g></g>
<g id="CRUK0762"><text class="t" x="407.9" y="912.5">CRUK0762</text><g class="n" transform="translate(284 909.2) scale(.33333)"><circle class="s" cx="445" cy="36"/><circle class="s" cx="370" cy="72"/><circle class="g" cx="520" cy="72"/><circle class="s" cx="370" cy="108"/><circle class="g" cx="520" cy="108"/><circle class="s" cx="310" cy="144"/><circle class="m" cx="430" cy="144"/><circle class="g" cx="520" cy="144"/><circle class="s" cx="280" cy="180"/><circle class="g" cx="340" cy="180"/><circle class="m" cx="400" cy="180"/><circle class="m" cx="460" cy="180"/><circle class="g" cx="520" cy="180"/><circle class="m" cx="250" cy="216"/><circle class="g" cx="310" cy="216"/><circle class="g" cx="520" cy="216"/><circle class="m" cx="220" cy="252"/><circle class="m" cx="280" cy="252"/><circle class="g" cx="520" cy="252"/><circle class="m" cx="220" cy="288"/></g></g>
<g id="CRUK0736"><text class="t" x="517.7" y="912.5">CRUK0736</text><g class="n" transform="translate(284 909.2) scale(.33333)"><circle class="s" cx="790" cy="41.1"/><circle class="s" cx="730" cy="82.3"/><circle class="g" cx="852" cy="82.3"/><circle class="s" cx="730" cy="123.4"/><circle class="g" cx="852" cy="123.4"/><circle class="m" cx="610" cy="164.6"/><circle class="g" cx="730" cy="164.6"/><circle class="g" cx="852" cy="164.6"/><circle class="m" cx="610" cy="205.7"/><circle class="m" cx="610" cy="246.9"/><circle class="m" cx="550" cy="288"/><circle class="m" cx="670" cy="288"/></g></g>
<g id="CRUK0733"><text class="t" x="627.5" y="912.5">CRUK0733</text><g class="n" transform="translate(568 909.2) scale(.33333)"><circle class="s" cx="143" cy="48"/><circle class="s" cx="143" cy="96"/><circle class="g" cx="60" cy="144"/><circle class="s" cx="227" cy="144"/><circle class="g" cx="60" cy="192"/><circle class="g" cx="127" cy="192"/><circle class="m" cx="193" cy="192"/><circle class="g" cx="260" cy="192"/><circle class="g" cx="327" cy="192"/><circle class="g" cx="27" cy="240"/><circle class="g" cx="93" cy="240"/><circle class="g" cx="27" cy="288"/></g></g>
<g id="CRUK0718"><text class="t" x="737.3" y="912.5">CRUK0718</text><g class="n" transform="translate(568 909.2) scale(.33333)"><circle class="s" cx="523" cy="57.6"/><circle class="g" cx="378" cy="115.2"/><circle class="g" cx="535" cy="115.2"/><circle class="m" cx="655" cy="115.2"/><circle class="g" cx="355" cy="172.8"/><circle class="g" cx="402" cy="172.8"/><circle class="g" cx="448" cy="172.8"/><circle class="g" cx="517" cy="172.8"/><circle class="g" cx="563" cy="172.8"/><circle class="g" cx="610" cy="172.8"/><circle class="m" cx="655" cy="172.8"/><circle class="g" cx="355" cy="230.4"/><circle class="g" cx="425" cy="230.4"/><circle class="g" cx="472" cy="230.4"/><circle class="g" cx="517" cy="230.4"/><circle class="g" cx="563" cy="230.4"/><circle class="g" cx="425" cy="288"/><circle class="g" cx="472" cy="288"/><circle class="g" cx="517" cy="288"/></g></g>
<g id="CRUK0552"><text class="t" x="847.1" y="912.5">CRUK0552</text><g class="n" transform="translate(568 909.2) scale(.33333)"><circle class="s" cx="887" cy="57.6"/><circle class="s" cx="785" cy="115.2"/><circle class="g" cx="985" cy="115.2"/><circle class="m" cx="686" cy="172.8"/><circle class="g" cx="785" cy="172.8"/><circle class="g" cx="887" cy="172.8"/><circle class="m" cx="686" cy="230.4"/><circle class="g" cx="785" cy="230.4"/><circle class="g" cx="985" cy="172.8"/><circle class="m" cx="686" cy="288"/></g></g>
<g id="CRUK0206"><text class="t" x="956.9" y="912.5">CRUK0206</text><g class="n" transform="translate(852 909.2) scale(.33333)"><circle class="s" cx="312" cy="57.6"/><circle class="s" cx="212" cy="115.2"/><circle class="s" cx="412" cy="115.2"/><circle class="m" cx="163" cy="172.8"/><circle class="g" cx="262" cy="172.8"/><circle class="m" cx="362" cy="172.8"/><circle class="m" cx="462" cy="172.8"/><circle class="m" cx="163" cy="230.4"/><circle class="m" cx="163" cy="288"/></g></g>
<g id="CRUK0495"><text class="t" x="1066.7" y="912.5">CRUK0495</text><g class="n" transform="translate(852 909.2) scale(.33333)"><circle class="s" cx="708" cy="36"/><circle class="g" cx="618" cy="72"/><circle class="s" cx="717" cy="72"/><circle class="g" cx="792" cy="72"/><circle class="g" cx="618" cy="108"/><circle class="g" cx="692" cy="108"/><circle class="m" cx="740" cy="108"/><circle class="g" cx="792" cy="108"/><circle class="g" cx="592" cy="144"/><circle class="g" cx="642" cy="144"/><circle class="g" cx="692" cy="144"/><circle class="g" cx="792" cy="144"/><circle class="g" cx="542" cy="180"/><circle class="g" cx="642" cy="180"/><circle class="g" cx="692" cy="180"/><circle class="g" cx="492" cy="216"/><circle class="g" cx="542" cy="216"/><circle class="g" cx="592" cy="216"/><circle class="g" cx="642" cy="216"/><circle class="g" cx="492" cy="252"/><circle class="g" cx="642" cy="252"/><circle class="g" cx="617" cy="288"/><circle class="g" cx="667" cy="288"/></g></g>
<g id="CRUK0476"><text class="t" x="78.5" y="1022.4">CRUK0476</text><g class="n" transform="translate(0 1019.1) scale(.33333)"><circle class="s" cx="303" cy="48"/><circle class="s" cx="222" cy="96"/><circle class="g" cx="383" cy="96"/><circle class="s" cx="122" cy="144"/><circle class="g" cx="234" cy="144"/><circle class="g" cx="310" cy="144"/><circle class="g" cx="383" cy="144"/><circle class="g" cx="85" cy="192"/><circle class="m" cx="158" cy="192"/><circle class="g" cx="234" cy="192"/><circle class="g" cx="383" cy="192"/><circle class="g" cx="85" cy="240"/><circle class="g" cx="234" cy="240"/><circle class="g" cx="85" cy="288"/><circle class="g" cx="234" cy="288"/></g></g>
<g id="CRUK0528"><text class="t" x="188.3" y="1022.4">CRUK0528</text><g class="n" transform="translate(0 1019.1) scale(.33333)"><circle class="s" cx="563" cy="48"/><circle class="s" cx="563" cy="96"/><circle class="s" cx="463" cy="144"/><circle class="s" cx="663" cy="144"/><circle class="g" cx="413" cy="192"/><circle class="s" cx="513" cy="192"/><circle class="g" cx="613" cy="192"/><circle class="m" cx="712" cy="192"/><circle class="g" cx="413" cy="240"/><circle class="g" cx="413" cy="288"/></g></g>
<g id="CRUK0666"><text class="t" x="298.1" y="1022.4">CRUK0666</text><g class="n" transform="translate(284 1019.1) scale(.33333)"><circle class="s" cx="107" cy="57.6"/><circle class="s" cx="0" cy="115.2"/><circle class="g" cx="130" cy="115.2"/><circle class="g" cx="190" cy="115.2"/><circle class="s" cx="-80" cy="172.8"/><circle class="g" cx="10" cy="172.8"/><circle class="s" cx="70" cy="172.8"/><circle class="g" cx="130" cy="172.8"/><circle class="g" cx="190" cy="172.8"/><circle class="g" cx="-110" cy="230.4"/><circle class="m" cx="-50" cy="230.4"/><circle class="g" cx="10" cy="230.4"/><circle class="g" cx="70" cy="230.4"/><circle class="g" cx="130" cy="230.4"/><circle class="g" cx="-110" cy="288"/></g></g>
<g id="CRUK0872"><text class="t" x="407.9" y="1022.4">CRUK0872</text><g class="n" transform="translate(284 1019.1) scale(.33333)"><circle class="s" cx="370" cy="72"/><circle class="m" cx="220" cy="144"/><circle class="g" cx="307" cy="144"/><circle class="g" cx="433" cy="144"/><circle class="g" cx="520" cy="144"/><circle class="m" cx="220" cy="216"/><circle class="g" cx="307" cy="216"/><circle class="g" cx="392" cy="216"/><circle class="g" cx="477" cy="216"/><circle class="m" cx="220" cy="288"/><circle class="g" cx="307" cy="288"/><circle class="g" cx="392" cy="288"/><circle class="g" cx="477" cy="288"/></g></g>
</g>
<g id="legend">
<rect x="975.5" y="1030" width="121" height="58.5" rx="4" fill="#fff" stroke="#222" stroke-width="1.2"/>
<text class="lg" x="981" y="1043">Clusters:</text>
<circle cx="986.5" cy="1052.5" r="3" class="g" stroke="#333" stroke-width="0.6"/>
<text class="lg" x="993" y="1056.5">Primary-unique</text>
<circle cx="986.5" cy="1065.3" r="3" class="s" stroke="#333" stroke-width="0.6"/>
<text class="lg" x="993" y="1069.3">Shared</text>
<circle cx="986.5" cy="1078" r="3" class="m" stroke="#333" stroke-width="0.6"/>
<text class="lg" x="993" y="1082">Metastasis-unique</text>
</g>
<text x="1112" y="1121" font-family="Liberation Sans, Arial, sans-serif" font-size="21" text-anchor="end" fill="#111">Late divergence</text>
</svg>
